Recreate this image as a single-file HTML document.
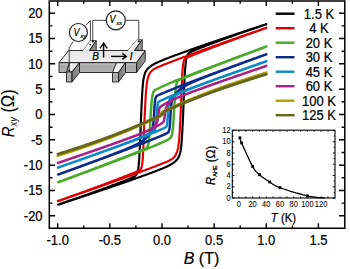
<!DOCTYPE html>
<html><head><meta charset="utf-8"><style>
html,body{margin:0;padding:0;background:#fff;}
svg{display:block;}
text{font-family:"Liberation Sans",sans-serif;stroke:#000;stroke-width:0.22px;}
.thin text{stroke-width:0.05px;}
</style></head><body>
<svg width="350" height="269" viewBox="0 0 350 269">
<rect width="350" height="269" fill="#fff"/>
<g fill="none" stroke-width="2.5" stroke-linejoin="round" stroke-linecap="round">
<path d="M266.3 24.1L265.7 24.3 265.2 24.5 264.6 24.7 264.0 24.9 263.4 25.0 262.9 25.2 262.3 25.4 261.7 25.6 261.1 25.8 260.6 26.0 260.0 26.2 259.4 26.4 258.8 26.6 258.3 26.8 257.7 27.0 257.1 27.1 256.5 27.3 256.0 27.5 255.4 27.7 254.8 27.9 254.3 28.1 253.7 28.3 253.1 28.5 252.5 28.7 252.0 28.9 251.4 29.0 250.8 29.2 250.2 29.4 249.7 29.6 249.1 29.8 248.5 30.0 247.9 30.2 247.4 30.4 246.8 30.6 246.2 30.8 245.6 31.0 245.1 31.1 244.5 31.3 243.9 31.5 243.4 31.7 242.8 31.9 242.2 32.1 241.6 32.3 241.1 32.5 240.5 32.7 239.9 32.9 239.3 33.1 238.8 33.3 238.2 33.4 237.6 33.6 237.0 33.8 236.5 34.0 235.9 34.2 235.3 34.4 234.7 34.6 234.2 34.8 233.6 35.0 233.0 35.2 232.5 35.4 231.9 35.6 231.3 35.8 230.7 35.9 230.2 36.1 229.6 36.3 229.0 36.5 228.4 36.7 227.9 36.9 227.3 37.1 226.7 37.3 226.1 37.5 225.6 37.7 225.0 37.9 224.4 38.1 223.8 38.3 223.3 38.5 222.7 38.7 222.1 38.8 221.6 39.0 221.0 39.2 220.4 39.4 219.8 39.6 219.3 39.8 218.7 40.0 218.1 40.2 217.5 40.4 217.0 40.6 216.4 40.8 215.8 41.0 215.2 41.2 214.7 41.4 214.1 41.6 213.5 41.8 213.0 42.0 212.4 42.2 211.8 42.4 211.2 42.6 210.7 42.8 210.1 42.9 209.5 43.1 208.9 43.3 208.4 43.5 207.8 43.7 207.2 43.9 206.6 44.1 206.1 44.3 205.5 44.5 204.9 44.7 204.3 44.9 203.8 45.1 203.2 45.3 202.6 45.5 202.1 45.7 201.5 45.9 200.9 46.1 200.3 46.3 199.8 46.5 199.2 46.7 198.6 46.9 198.0 47.1 197.5 47.3 196.9 47.5 196.3 47.7 195.7 47.9 195.2 48.1 194.6 48.3 194.0 48.5 193.4 48.7 192.9 48.9 192.3 49.1 191.7 49.3 191.2 49.5 190.6 49.7 190.0 49.9 189.4 50.1 188.9 50.4 188.3 50.6 187.7 50.8 187.1 51.0 186.6 51.2 186.0 51.4 185.4 51.6 184.8 51.8 184.3 52.0 183.7 52.2 183.1 52.4 182.5 52.6 182.0 52.8 181.4 53.0 180.8 53.2 180.3 53.4 179.7 53.7 179.1 53.9 178.5 54.1 178.0 54.3 177.4 54.5 176.8 54.7 176.2 54.9 175.7 55.1 175.1 55.3 174.5 55.6 173.9 55.8 173.4 56.0 172.8 56.2 172.2 56.4 171.6 56.6 171.1 56.8 170.5 57.1 169.9 57.3 169.4 57.5 168.8 57.7 168.2 57.9 167.6 58.2 167.1 58.4 166.5 58.6 165.9 58.8 165.3 59.1 164.8 59.3 164.2 59.5 163.6 59.7 163.0 60.0 162.5 60.2 161.9 60.4 161.3 60.7 160.7 60.9 160.2 61.2 159.6 61.4 159.0 61.7 158.5 61.9 157.9 62.2 157.3 62.4 156.7 62.7 156.2 63.0 155.6 63.3 155.0 63.6 154.4 63.9 153.9 64.2 153.3 64.5 152.8 64.8 152.2 65.1 151.7 65.5 151.2 65.8 150.7 66.2 150.2 66.6 149.6 67.0 149.2 67.4 148.7 67.8 148.2 68.3 147.8 68.8 147.3 69.2 146.9 69.7 146.6 70.2 146.2 70.8 145.9 71.3 145.6 71.9 145.3 72.4 145.1 73.0 144.8 73.7 144.6 74.3 144.4 75.1 144.2 75.7 144.1 76.3 143.9 77.1 143.7 77.9 143.6 78.5 143.5 79.2 143.4 79.9 143.3 80.6 143.2 81.5 143.1 82.4 143.0 83.3 142.9 84.3 142.8 85.4 142.7 86.6 142.7 87.2 142.6 87.9 142.5 88.6 142.5 89.3 142.4 90.0 142.4 90.7 142.3 91.5 142.3 92.3 142.2 93.1 142.2 93.9 142.1 94.8 142.1 95.7 142.0 96.6 142.0 97.5 141.9 98.5 141.9 99.4 141.8 100.4 141.8 101.5 141.7 102.5 141.7 103.6 141.6 104.7 141.6 105.8 141.5 106.9 141.5 108.0 141.4 109.2 141.3 110.3 141.3 111.5 141.2 112.7 141.2 113.8 141.1 115.0 141.1 116.2 141.0 117.4 141.0 118.6 140.9 119.8 140.9 120.9 140.8 122.3 140.8 123.7 140.7 125.1 140.7 126.6 140.6 128.0 140.6 129.4 140.5 130.8 140.5 132.2 140.4 133.6 140.4 135.0 140.3 136.4 140.3 137.7 140.2 139.0 140.1 140.3 140.1 141.6 140.0 142.9 140.0 144.1 139.9 145.3 139.9 146.4 139.8 147.6 139.8 148.7 139.7 149.8 139.7 150.8 139.6 151.8 139.6 152.8 139.5 153.8 139.5 154.7 139.4 155.6 139.4 156.4 139.3 157.3 139.3 158.1 139.2 158.8 139.2 159.6 139.1 160.3 139.1 161.0 139.0 161.6 138.9 162.3 138.9 162.9 138.8 164.0 138.7 165.1 138.6 166.0 138.5 166.9 138.4 167.7 138.3 168.4 138.2 169.1 138.1 169.7 137.9 170.5 137.8 171.2 137.6 171.9 137.4 172.6 137.2 173.2 136.9 173.8 136.6 174.3 136.2 174.9 135.8 175.4 135.4 175.8 134.8 176.2 134.3 176.5 133.7 176.8 133.2 177.1 132.6 177.3 132.0 177.6 131.4 177.8 130.9 178.1 130.3 178.3 129.7 178.6 129.1 178.8 128.6 179.0 128.0 179.3 127.4 179.5 126.9 179.7 126.3 180.0 125.7 180.2 125.1 180.4 124.6 180.7 124.0 180.9 123.4 181.1 122.8 181.4 122.3 181.6 121.7 181.8 121.1 182.0 120.5 182.3 120.0 182.5 119.4 182.7 118.8 182.9 118.2 183.1 117.7 183.4 117.1 183.6 116.5 183.8 116.0 184.0 115.4 184.2 114.8 184.5 114.2 184.7 113.7 184.9 113.1 185.1 112.5 185.3 111.9 185.5 111.4 185.8 110.8 186.0 110.2 186.2 109.6 186.4 109.1 186.6 108.5 186.8 107.9 187.0 107.3 187.3 106.8 187.5 106.2 187.7 105.6 187.9 105.1 188.1 104.5 188.3 103.9 188.5 103.3 188.7 102.8 188.9 102.2 189.2 101.6 189.4 101.0 189.6 100.5 189.8 99.9 190.0 99.3 190.2 98.7 190.4 98.2 190.6 97.6 190.8 97.0 191.0 96.4 191.2 95.9 191.4 95.3 191.6 94.7 191.8 94.2 192.1 93.6 192.3 93.0 192.5 92.4 192.7 91.9 192.9 91.3 193.1 90.7 193.3 90.1 193.5 89.6 193.7 89.0 193.9 88.4 194.1 87.8 194.3 87.3 194.5 86.7 194.7 86.1 194.9 85.5 195.1 85.0 195.3 84.4 195.5 83.8 195.7 83.3 195.9 82.7 196.1 82.1 196.3 81.5 196.5 81.0 196.7 80.4 196.9 79.8 197.1 79.2 197.3 78.7 197.5 78.1 197.7 77.5 197.9 76.9 198.1 76.4 198.3 75.8 198.5 75.2 198.7 74.6 198.9 74.1 199.1 73.5 199.3 72.9 199.5 72.4 199.7 71.8 199.9 71.2 200.1 70.6 200.3 70.1 200.5 69.5 200.6 68.9 200.8 68.3 201.0 67.8 201.2 67.2 201.4 66.6 201.6 66.0 201.8 65.5 202.0 64.9 202.2 64.3 202.4 63.7 202.6 63.2 202.8 62.6 203.0 62.0 203.2 61.5 203.4 60.9 203.6 60.3 203.8 59.7 204.0 59.2 204.2 58.6 204.4 58.0 204.5 58.6 204.6 59.2 204.4 59.8 204.2 60.4 204.0 60.9 203.8 61.5 203.6 62.1 203.5 62.7 203.3 63.2 203.1 63.8 202.9 64.4 202.7 64.9 202.5 65.5 202.3 66.1 202.1 66.7 201.9 67.2 201.7 67.8 201.5 68.4 201.4 69.0 201.2 69.5 201.0 70.1 200.8 70.7 200.6 71.3 200.4 71.8 200.2 72.4 200.0 73.0 199.8 73.6 199.6 74.1 199.5 74.7 199.3 75.3 199.1 75.8 198.9 76.4 198.7 77.0 198.5 77.6 198.3 78.1 198.1 78.7 197.9 79.3 197.7 79.9 197.5 80.4 197.4 81.0 197.2 81.6 197.0 82.2 196.8 82.7 196.6 83.3 196.4 83.9 196.2 84.5 196.0 85.0 195.8 85.6 195.6 86.2 195.4 86.7 195.2 87.3 195.1 87.9 194.9 88.5 194.7 89.0 194.5 89.6 194.3 90.2 194.1 90.8 193.9 91.3 193.7 91.9 193.5 92.5 193.3 93.1 193.1 93.6 192.9 94.2 192.7 94.8 192.5 95.4 192.4 95.9 192.2 96.5 192.0 97.1 191.8 97.6 191.6 98.2 191.4 98.8 191.2 99.4 191.0 99.9 190.8 100.5 190.6 101.1 190.4 101.7 190.2 102.2 190.0 102.8 189.8 103.4 189.6 104.0 189.4 104.5 189.3 105.1 189.1 105.7 188.9 106.3 188.7 106.8 188.5 107.4 188.3 108.0 188.1 108.5 187.9 109.1 187.7 109.7 187.5 110.3 187.3 110.8 187.1 111.4 186.9 112.0 186.7 112.6 186.5 113.1 186.3 113.7 186.1 114.3 185.9 114.9 185.7 115.4 185.5 116.0 185.3 116.6 185.1 117.2 184.9 117.7 184.7 118.3 184.5 118.9 184.4 119.4 184.2 120.0 184.0 120.6 183.8 121.2 183.6 121.7 183.4 122.3 183.2 122.9 183.0 123.5 182.8 124.0 182.6 124.6 182.4 125.2 182.2 125.8 182.0 126.3 181.8 126.9 181.6 127.5 181.4 128.1 181.2 128.6 181.0 129.2 180.8 129.8 180.6 130.3 180.4 130.9 180.2 131.5 179.9 132.1 179.7 132.6 179.5 133.2 179.3 133.8 179.1 134.4 178.9 134.9 178.7 135.5 178.5 136.1 178.3 136.7 178.1 137.2 177.9 137.8 177.7 138.4 177.5 138.9 177.3 139.5 177.1 140.1 176.9 140.7 176.7 141.2 176.5 141.8 176.3 142.4 176.1 143.0 175.8 143.5 175.6 144.1 175.4 144.7 175.2 145.3 175.0 145.8 174.8 146.4 174.6 147.0 174.4 147.6 174.2 148.1 174.0 148.7 173.7 149.3 173.5 149.8 173.3 150.4 173.1 151.0 172.9 151.6 172.7 152.1 172.5 152.7 172.2 153.3 172.0 153.9 171.8 154.4 171.6 155.0 171.4 155.6 171.2 156.2 170.9 156.7 170.7 157.3 170.5 157.9 170.3 158.5 170.0 159.0 169.8 159.6 169.6 160.2 169.4 160.7 169.1 161.3 168.9 161.9 168.7 162.5 168.4 163.0 168.2 163.6 168.0 164.2 167.7 164.8 167.5 165.3 167.2 165.9 167.0 166.5 166.7 167.1 166.4 167.6 166.2 168.2 165.9 168.8 165.6 169.4 165.3 169.9 165.0 170.5 164.7 171.0 164.4 171.5 164.1 172.1 163.7 172.6 163.4 173.1 163.1 173.6 162.7 174.2 162.3 174.7 161.9 175.1 161.5 175.6 161.1 176.1 160.6 176.5 160.1 177.0 159.7 177.4 159.1 177.7 158.6 178.1 158.1 178.4 157.6 178.7 157.0 179.0 156.4 179.3 155.8 179.5 155.1 179.7 154.5 179.9 153.7 180.1 153.1 180.3 152.4 180.4 151.7 180.6 150.8 180.7 150.2 180.8 149.5 180.9 148.8 181.0 148.0 181.1 147.2 181.2 146.3 181.3 145.3 181.4 144.2 181.5 143.1 181.6 141.9 181.7 141.3 181.7 140.6 181.8 139.9 181.8 139.2 181.9 138.5 181.9 137.7 182.0 136.9 182.0 136.1 182.1 135.3 182.1 134.5 182.2 133.6 182.2 132.7 182.3 131.8 182.3 130.8 182.4 129.8 182.4 128.8 182.5 127.8 182.5 126.8 182.6 125.7 182.7 124.7 182.7 123.6 182.8 122.4 182.8 121.3 182.9 120.2 182.9 119.0 183.0 117.9 183.0 116.7 183.1 115.5 183.1 114.3 183.2 113.1 183.2 112.0 183.3 110.8 183.3 109.6 183.4 108.4 183.4 107.2 183.5 105.7 183.5 104.3 183.6 102.9 183.6 101.5 183.7 100.0 183.7 98.6 183.8 97.2 183.9 95.8 183.9 94.4 184.0 93.1 184.0 91.7 184.1 90.4 184.1 89.1 184.2 87.8 184.2 86.5 184.3 85.3 184.3 84.1 184.4 82.9 184.4 81.8 184.5 80.6 184.5 79.5 184.6 78.5 184.6 77.5 184.7 76.5 184.7 75.5 184.8 74.6 184.8 73.7 184.9 72.8 184.9 71.9 185.0 71.1 185.1 70.3 185.1 69.6 185.2 68.9 185.2 68.2 185.3 67.5 185.3 66.9 185.4 66.2 185.5 65.1 185.6 64.0 185.7 63.1 185.8 62.2 185.9 61.3 186.0 60.6 186.1 59.9 186.2 59.3 186.4 58.5 186.5 57.8 186.7 57.1 186.9 56.4 187.1 55.8 187.3 55.2 187.7 54.6 188.0 54.1 188.4 53.6 188.9 53.1 189.4 52.8 190.0 52.4 190.5 52.1 191.1 51.9 191.7 51.6 192.2 51.3 192.8 51.1 193.4 50.8 194.0 50.6 194.5 50.3 195.1 50.1 195.7 49.9 196.3 49.6 196.8 49.4 197.4 49.2 198.0 48.9 198.6 48.7 199.1 48.5 199.7 48.2 200.3 48.0 200.9 47.8 201.4 47.6 202.0 47.3 202.6 47.1 203.1 46.9 203.7 46.7 204.3 46.4 204.9 46.2 205.4 46.0 206.0 45.8 206.6 45.6 207.2 45.3 207.7 45.1 208.3 44.9 208.9 44.7 209.5 44.5 210.0 44.2 210.6 44.0 211.2 43.8 211.8 43.6 212.3 43.4 212.9 43.2 213.5 42.9 214.0 42.7 214.6 42.5 215.2 42.3 215.8 42.1 216.3 41.9 216.9 41.7 217.5 41.4 218.1 41.2 218.6 41.0 219.2 40.8 219.8 40.6 220.4 40.4 220.9 40.2 221.5 40.0 222.1 39.8 222.7 39.6 223.2 39.3 223.8 39.1 224.4 38.9 224.9 38.7 225.5 38.5 226.1 38.3 226.7 38.1 227.2 37.9 227.8 37.7 228.4 37.5 229.0 37.3 229.5 37.1 230.1 36.9 230.7 36.7 231.3 36.5 231.8 36.3 232.4 36.0 233.0 35.8 233.5 35.6 234.1 35.4 234.7 35.2 235.3 35.0 235.8 34.8 236.4 34.6 237.0 34.4 237.6 34.2 238.1 34.0 238.7 33.8 239.3 33.6 239.9 33.4 240.4 33.2 241.0 33.0 241.6 32.8 242.2 32.6 242.7 32.4 243.3 32.2 243.9 32.0 244.4 31.8 245.0 31.6 245.6 31.4 246.2 31.2 246.7 31.0 247.3 30.8 247.9 30.6 248.5 30.4 249.0 30.2 249.6 30.0 250.2 29.8 250.8 29.6 251.3 29.4 251.9 29.2 252.5 29.1 253.1 28.9 253.6 28.7 254.2 28.5 254.8 28.3 255.3 28.1 255.9 27.9 256.5 27.7 257.1 27.5 257.6 27.3 258.2 27.1 258.8 26.9 259.4 26.7 259.9 26.5 260.5 26.3 261.1 26.1 261.7 25.9 262.2 25.7 262.8 25.5 263.4 25.3 264.0 25.1 264.5 24.9 265.1 24.8 265.7 24.6 266.2 24.4 266.3 24.3" stroke="#000000" stroke-width="2.15"/><path d="M266.3 27.7L265.7 27.9 265.2 28.1 264.6 28.3 264.0 28.5 263.4 28.7 262.9 28.9 262.3 29.1 261.7 29.3 261.1 29.5 260.6 29.7 260.0 29.9 259.4 30.1 258.8 30.3 258.3 30.5 257.7 30.7 257.1 30.9 256.5 31.1 256.0 31.3 255.4 31.5 254.8 31.7 254.3 31.9 253.7 32.1 253.1 32.3 252.5 32.5 252.0 32.7 251.4 32.9 250.8 33.1 250.2 33.3 249.7 33.5 249.1 33.7 248.5 33.9 247.9 34.1 247.4 34.3 246.8 34.5 246.2 34.7 245.6 34.9 245.1 35.1 244.5 35.3 243.9 35.5 243.4 35.7 242.8 35.9 242.2 36.1 241.6 36.3 241.1 36.5 240.5 36.7 239.9 36.9 239.3 37.1 238.8 37.3 238.2 37.5 237.6 37.7 237.0 37.9 236.5 38.1 235.9 38.3 235.3 38.5 234.7 38.7 234.2 38.9 233.6 39.1 233.0 39.3 232.5 39.5 231.9 39.7 231.3 39.9 230.7 40.1 230.2 40.3 229.6 40.5 229.0 40.7 228.4 40.9 227.9 41.1 227.3 41.3 226.7 41.5 226.1 41.7 225.6 41.9 225.0 42.1 224.4 42.3 223.8 42.5 223.3 42.7 222.7 42.9 222.1 43.1 221.6 43.3 221.0 43.5 220.4 43.8 219.8 44.0 219.3 44.2 218.7 44.4 218.1 44.6 217.5 44.8 217.0 45.0 216.4 45.2 215.8 45.4 215.2 45.6 214.7 45.8 214.1 46.0 213.5 46.2 213.0 46.4 212.4 46.6 211.8 46.8 211.2 47.0 210.7 47.2 210.1 47.4 209.5 47.7 208.9 47.9 208.4 48.1 207.8 48.3 207.2 48.5 206.6 48.7 206.1 48.9 205.5 49.1 204.9 49.3 204.3 49.5 203.8 49.7 203.2 49.9 202.6 50.1 202.1 50.3 201.5 50.6 200.9 50.8 200.3 51.0 199.8 51.2 199.2 51.4 198.6 51.6 198.0 51.8 197.5 52.0 196.9 52.2 196.3 52.4 195.7 52.6 195.2 52.9 194.6 53.1 194.0 53.3 193.4 53.5 192.9 53.7 192.3 53.9 191.7 54.1 191.2 54.3 190.6 54.5 190.0 54.8 189.4 55.0 188.9 55.2 188.3 55.4 187.7 55.6 187.1 55.8 186.6 56.0 186.0 56.2 185.4 56.5 184.8 56.7 184.3 56.9 183.7 57.1 183.1 57.3 182.5 57.5 182.0 57.7 181.4 58.0 180.8 58.2 180.3 58.4 179.7 58.6 179.1 58.8 178.5 59.0 178.0 59.3 177.4 59.5 176.8 59.7 176.2 59.9 175.7 60.1 175.1 60.3 174.5 60.6 173.9 60.8 173.4 61.0 172.8 61.2 172.2 61.4 171.6 61.7 171.1 61.9 170.5 62.1 169.9 62.3 169.4 62.5 168.8 62.8 168.2 63.0 167.6 63.2 167.1 63.4 166.5 63.7 165.9 63.9 165.3 64.1 164.8 64.3 164.2 64.6 163.6 64.8 163.0 65.0 162.5 65.2 161.9 65.5 161.3 65.7 160.7 65.9 160.2 66.2 159.6 66.4 159.0 66.7 158.5 66.9 157.9 67.2 157.3 67.4 156.7 67.7 156.2 68.0 155.6 68.2 155.0 68.6 154.4 68.9 153.9 69.2 153.4 69.5 152.9 69.9 152.4 70.3 151.9 70.7 151.4 71.2 151.0 71.6 150.6 72.2 150.2 72.7 149.8 73.2 149.5 73.8 149.2 74.4 149.0 74.9 148.7 75.5 148.4 76.2 148.2 76.9 148.0 77.6 147.8 78.3 147.7 79.0 147.5 79.7 147.3 80.4 147.2 81.3 147.1 81.9 147.0 82.6 146.9 83.3 146.8 84.1 146.7 84.9 146.6 85.8 146.5 86.8 146.4 87.8 146.3 88.9 146.1 90.1 146.1 90.7 146.0 91.4 146.0 92.1 145.9 92.8 145.9 93.5 145.8 94.3 145.8 95.0 145.7 95.8 145.7 96.7 145.6 97.5 145.6 98.4 145.5 99.3 145.5 100.2 145.4 101.1 145.4 102.1 145.3 103.1 145.3 104.1 145.2 105.1 145.2 106.1 145.1 107.2 145.1 108.2 145.0 109.2 144.9 110.3 144.9 111.3 144.8 112.4 144.8 113.4 144.7 114.5 144.7 115.5 144.6 116.5 144.6 117.4 144.5 118.4 144.5 119.3 144.4 120.1 144.4 121.1 144.3 122.3 144.3 123.5 144.2 124.8 144.2 126.2 144.1 127.6 144.1 129.0 144.0 130.4 144.0 131.9 143.9 133.3 143.9 134.8 143.8 136.2 143.7 137.7 143.7 139.1 143.6 140.5 143.6 141.8 143.5 143.2 143.5 144.5 143.4 145.7 143.4 146.9 143.3 148.1 143.3 149.3 143.2 150.4 143.2 151.4 143.1 152.4 143.1 153.4 143.0 154.3 143.0 155.2 142.9 156.0 142.9 156.8 142.8 157.6 142.8 158.3 142.7 159.0 142.7 159.6 142.6 160.3 142.5 161.4 142.4 162.4 142.3 163.3 142.2 164.1 142.1 164.8 142.0 165.4 141.8 166.2 141.7 166.9 141.5 167.6 141.2 168.2 141.0 168.8 140.6 169.3 140.2 169.8 139.7 170.2 139.2 170.5 138.6 170.8 138.1 171.0 137.5 171.3 136.9 171.5 136.3 171.8 135.8 172.0 135.2 172.2 134.6 172.5 134.0 172.7 133.5 172.9 132.9 173.2 132.3 173.4 131.8 173.6 131.2 173.8 130.6 174.1 130.0 174.3 129.5 174.5 128.9 174.8 128.3 175.0 127.7 175.2 127.2 175.4 126.6 175.7 126.0 175.9 125.4 176.1 124.9 176.3 124.3 176.6 123.7 176.8 123.1 177.0 122.6 177.2 122.0 177.5 121.4 177.7 120.9 177.9 120.3 178.1 119.7 178.3 119.1 178.6 118.6 178.8 118.0 179.0 117.4 179.2 116.8 179.4 116.3 179.7 115.7 179.9 115.1 180.1 114.5 180.3 114.0 180.5 113.4 180.8 112.8 181.0 112.2 181.2 111.7 181.4 111.1 181.6 110.5 181.8 110.0 182.1 109.4 182.3 108.8 182.5 108.2 182.7 107.7 182.9 107.1 183.1 106.5 183.4 105.9 183.6 105.4 183.8 104.8 184.0 104.2 184.2 103.6 184.4 103.1 184.6 102.5 184.9 101.9 185.1 101.3 185.3 100.8 185.5 100.2 185.7 99.6 185.9 99.1 186.1 98.5 186.3 97.9 186.6 97.3 186.8 96.8 187.0 96.2 187.2 95.6 187.4 95.0 187.6 94.5 187.8 93.9 188.0 93.3 188.2 92.7 188.5 92.2 188.7 91.6 188.9 91.0 189.1 90.5 189.3 89.9 189.5 89.3 189.7 88.7 189.9 88.2 190.1 87.6 190.3 87.0 190.5 86.4 190.8 85.9 191.0 85.3 191.2 84.7 191.4 84.1 191.6 83.6 191.8 83.0 192.0 82.4 192.2 81.8 192.4 81.3 192.6 80.7 192.8 80.1 193.0 79.6 193.2 79.0 193.4 78.4 193.7 77.8 193.9 77.3 194.1 76.7 194.3 76.1 194.5 75.5 194.7 75.0 194.9 74.4 195.1 73.8 195.3 73.2 195.5 72.7 195.7 72.1 195.9 71.5 196.1 70.9 196.3 70.4 196.5 69.8 196.7 69.2 196.9 68.7 197.1 68.1 197.3 67.5 197.5 66.9 197.8 66.4 198.0 65.8 198.2 65.2 198.4 64.6 198.6 64.1 198.8 63.5 199.0 62.9 199.2 62.3 199.4 61.8 199.6 61.2 199.8 60.6 200.0 60.0 200.2 59.5 200.4 58.9 200.6 58.3 200.8 57.8 201.0 58.4 201.1 59.0 200.9 59.5 200.7 60.1 200.5 60.7 200.3 61.2 200.1 61.8 199.9 62.4 199.7 63.0 199.5 63.5 199.3 64.1 199.1 64.7 198.9 65.3 198.7 65.8 198.5 66.4 198.3 67.0 198.1 67.6 197.9 68.1 197.7 68.7 197.5 69.3 197.3 69.9 197.1 70.4 196.9 71.0 196.7 71.6 196.5 72.1 196.3 72.7 196.1 73.3 195.9 73.9 195.7 74.4 195.5 75.0 195.3 75.6 195.1 76.2 194.9 76.7 194.7 77.3 194.5 77.9 194.3 78.5 194.1 79.0 193.9 79.6 193.7 80.2 193.5 80.8 193.3 81.3 193.1 81.9 192.9 82.5 192.7 83.0 192.5 83.6 192.3 84.2 192.1 84.8 191.9 85.3 191.7 85.9 191.5 86.5 191.3 87.1 191.1 87.6 190.9 88.2 190.7 88.8 190.5 89.4 190.3 89.9 190.1 90.5 189.9 91.1 189.7 91.6 189.5 92.2 189.3 92.8 189.1 93.4 188.9 93.9 188.7 94.5 188.5 95.1 188.3 95.7 188.1 96.2 187.9 96.8 187.7 97.4 187.5 98.0 187.3 98.5 187.1 99.1 186.9 99.7 186.7 100.3 186.5 100.8 186.2 101.4 186.0 102.0 185.8 102.5 185.6 103.1 185.4 103.7 185.2 104.3 185.0 104.8 184.8 105.4 184.6 106.0 184.4 106.6 184.2 107.1 184.0 107.7 183.8 108.3 183.6 108.9 183.4 109.4 183.2 110.0 183.0 110.6 182.8 111.2 182.6 111.7 182.4 112.3 182.2 112.9 182.0 113.4 181.7 114.0 181.5 114.6 181.3 115.2 181.1 115.7 180.9 116.3 180.7 116.9 180.5 117.5 180.3 118.0 180.1 118.6 179.9 119.2 179.7 119.8 179.5 120.3 179.3 120.9 179.1 121.5 178.9 122.1 178.6 122.6 178.4 123.2 178.2 123.8 178.0 124.3 177.8 124.9 177.6 125.5 177.4 126.1 177.2 126.6 177.0 127.2 176.8 127.8 176.6 128.4 176.3 128.9 176.1 129.5 175.9 130.1 175.7 130.7 175.5 131.2 175.3 131.8 175.1 132.4 174.9 133.0 174.7 133.5 174.5 134.1 174.2 134.7 174.0 135.2 173.8 135.8 173.6 136.4 173.4 137.0 173.2 137.5 173.0 138.1 172.8 138.7 172.5 139.3 172.3 139.8 172.1 140.4 171.9 141.0 171.7 141.6 171.5 142.1 171.3 142.7 171.0 143.3 170.8 143.9 170.6 144.4 170.4 145.0 170.2 145.6 170.0 146.1 169.7 146.7 169.5 147.3 169.3 147.9 169.1 148.4 168.9 149.0 168.7 149.6 168.4 150.2 168.2 150.7 168.0 151.3 167.8 151.9 167.6 152.5 167.4 153.0 167.1 153.6 166.9 154.2 166.7 154.8 166.5 155.3 166.3 155.9 166.0 156.5 165.8 157.0 165.6 157.6 165.4 158.2 165.1 158.8 164.9 159.3 164.7 159.9 164.5 160.5 164.2 161.1 164.0 161.6 163.8 162.2 163.6 162.8 163.3 163.4 163.1 163.9 162.9 164.5 162.6 165.1 162.4 165.7 162.2 166.2 161.9 166.8 161.7 167.4 161.4 167.9 161.2 168.5 160.9 169.1 160.6 169.7 160.3 170.2 160.0 170.8 159.7 171.3 159.4 171.9 159.1 172.4 158.7 172.9 158.3 173.4 157.9 173.8 157.4 174.3 157.0 174.7 156.5 175.0 156.0 175.4 155.5 175.7 154.9 176.0 154.3 176.3 153.8 176.5 153.2 176.8 152.5 177.0 151.9 177.2 151.3 177.4 150.5 177.6 149.9 177.7 149.2 177.9 148.5 178.1 147.7 178.2 147.1 178.3 146.5 178.4 145.8 178.5 145.0 178.6 144.3 178.7 143.4 178.8 142.5 178.9 141.5 179.0 140.5 179.1 139.3 179.2 138.7 179.2 138.1 179.3 137.5 179.3 136.8 179.4 136.1 179.4 135.4 179.5 134.6 179.5 133.9 179.6 133.1 179.6 132.3 179.7 131.4 179.7 130.6 179.8 129.7 179.8 128.8 179.9 127.8 179.9 126.9 180.0 125.9 180.0 124.9 180.1 123.9 180.1 122.9 180.2 121.9 180.3 120.8 180.3 119.8 180.4 118.7 180.4 117.7 180.5 116.6 180.5 115.6 180.6 114.6 180.6 113.6 180.7 112.6 180.7 111.6 180.8 110.6 180.8 109.7 180.9 108.8 180.9 107.9 181.0 106.8 181.0 105.6 181.1 104.3 181.1 103.0 181.2 101.6 181.2 100.2 181.3 98.8 181.3 97.4 181.4 95.9 181.5 94.5 181.5 93.0 181.6 91.6 181.6 90.1 181.7 88.7 181.7 87.4 181.8 86.0 181.8 84.7 181.9 83.4 181.9 82.2 182.0 81.0 182.0 79.8 182.1 78.7 182.1 77.6 182.2 76.6 182.2 75.6 182.3 74.7 182.3 73.8 182.4 72.9 182.4 72.1 182.5 71.3 182.5 70.6 182.6 69.9 182.7 69.2 182.7 68.6 182.8 67.4 182.9 66.4 183.0 65.5 183.1 64.7 183.2 63.9 183.3 63.3 183.5 62.4 183.6 61.7 183.8 61.2 184.0 60.5 184.3 59.9 184.6 59.4 185.0 58.9 185.5 58.5 186.0 58.1 186.6 57.8 187.1 57.6 187.7 57.3 188.3 57.1 188.9 56.8 189.4 56.6 190.0 56.4 190.6 56.1 191.2 55.9 191.7 55.7 192.3 55.4 192.9 55.2 193.4 55.0 194.0 54.8 194.6 54.5 195.2 54.3 195.7 54.1 196.3 53.8 196.9 53.6 197.5 53.4 198.0 53.2 198.6 52.9 199.2 52.7 199.8 52.5 200.3 52.3 200.9 52.0 201.5 51.8 202.1 51.6 202.6 51.4 203.2 51.1 203.8 50.9 204.3 50.7 204.9 50.5 205.5 50.3 206.1 50.0 206.6 49.8 207.2 49.6 207.8 49.4 208.4 49.2 208.9 48.9 209.5 48.7 210.1 48.5 210.7 48.3 211.2 48.1 211.8 47.8 212.4 47.6 213.0 47.4 213.5 47.2 214.1 47.0 214.7 46.8 215.2 46.5 215.8 46.3 216.4 46.1 217.0 45.9 217.5 45.7 218.1 45.5 218.7 45.2 219.3 45.0 219.8 44.8 220.4 44.6 221.0 44.4 221.6 44.2 222.1 44.0 222.7 43.7 223.3 43.5 223.8 43.3 224.4 43.1 225.0 42.9 225.6 42.7 226.1 42.5 226.7 42.3 227.3 42.0 227.9 41.8 228.4 41.6 229.0 41.4 229.6 41.2 230.2 41.0 230.7 40.8 231.3 40.6 231.9 40.4 232.5 40.1 233.0 39.9 233.6 39.7 234.2 39.5 234.7 39.3 235.3 39.1 235.9 38.9 236.5 38.7 237.0 38.5 237.6 38.3 238.2 38.1 238.8 37.8 239.3 37.6 239.9 37.4 240.5 37.2 241.1 37.0 241.6 36.8 242.2 36.6 242.8 36.4 243.4 36.2 243.9 36.0 244.5 35.8 245.1 35.6 245.6 35.4 246.2 35.1 246.8 34.9 247.4 34.7 247.9 34.5 248.5 34.3 249.1 34.1 249.7 33.9 250.2 33.7 250.8 33.5 251.4 33.3 252.0 33.1 252.5 32.9 253.1 32.7 253.7 32.5 254.3 32.3 254.8 32.1 255.4 31.9 256.0 31.7 256.5 31.5 257.1 31.2 257.7 31.0 258.3 30.8 258.8 30.6 259.4 30.4 260.0 30.2 260.6 30.0 261.1 29.8 261.7 29.6 262.3 29.4 262.9 29.2 263.4 29.0 264.0 28.8 264.6 28.6 265.2 28.4 265.7 28.2 266.3 28.0" stroke="#e00000" stroke-width="2.15"/><path d="M266.3 46.5L265.7 46.7 265.2 46.9 264.6 47.1 264.0 47.3 263.4 47.5 262.9 47.8 262.3 48.0 261.7 48.2 261.1 48.4 260.6 48.6 260.0 48.8 259.4 49.0 258.8 49.2 258.3 49.4 257.7 49.7 257.1 49.9 256.5 50.1 256.0 50.3 255.4 50.5 254.8 50.7 254.3 50.9 253.7 51.1 253.1 51.4 252.5 51.6 252.0 51.8 251.4 52.0 250.8 52.2 250.2 52.4 249.7 52.6 249.1 52.8 248.5 53.0 247.9 53.3 247.4 53.5 246.8 53.7 246.2 53.9 245.6 54.1 245.1 54.3 244.5 54.5 243.9 54.7 243.4 55.0 242.8 55.2 242.2 55.4 241.6 55.6 241.1 55.8 240.5 56.0 239.9 56.2 239.3 56.4 238.8 56.7 238.2 56.9 237.6 57.1 237.0 57.3 236.5 57.5 235.9 57.7 235.3 57.9 234.7 58.1 234.2 58.4 233.6 58.6 233.0 58.8 232.5 59.0 231.9 59.2 231.3 59.4 230.7 59.6 230.2 59.9 229.6 60.1 229.0 60.3 228.4 60.5 227.9 60.7 227.3 60.9 226.7 61.1 226.1 61.4 225.6 61.6 225.0 61.8 224.4 62.0 223.8 62.2 223.3 62.4 222.7 62.6 222.1 62.9 221.6 63.1 221.0 63.3 220.4 63.5 219.8 63.7 219.3 63.9 218.7 64.1 218.1 64.4 217.5 64.6 217.0 64.8 216.4 65.0 215.8 65.2 215.2 65.4 214.7 65.7 214.1 65.9 213.5 66.1 213.0 66.3 212.4 66.5 211.8 66.7 211.2 66.9 210.7 67.2 210.1 67.4 209.5 67.6 208.9 67.8 208.4 68.0 207.8 68.2 207.2 68.5 206.6 68.7 206.1 68.9 205.5 69.1 204.9 69.3 204.3 69.6 203.8 69.8 203.2 70.0 202.6 70.2 202.1 70.4 201.5 70.6 200.9 70.9 200.3 71.1 199.8 71.3 199.2 71.5 198.6 71.7 198.0 72.0 197.5 72.2 196.9 72.4 196.3 72.6 195.7 72.8 195.2 73.1 194.6 73.3 194.0 73.5 193.4 73.7 192.9 73.9 192.3 74.2 191.7 74.4 191.2 74.6 190.6 74.8 190.0 75.1 189.4 75.3 188.9 75.5 188.3 75.7 187.7 75.9 187.1 76.2 186.6 76.4 186.0 76.6 185.4 76.8 184.8 77.1 184.3 77.3 183.7 77.5 183.1 77.7 182.5 78.0 182.0 78.2 181.4 78.4 180.8 78.7 180.3 78.9 179.7 79.1 179.1 79.3 178.5 79.6 178.0 79.8 177.4 80.0 176.8 80.3 176.2 80.5 175.7 80.7 175.1 81.0 174.5 81.2 173.9 81.4 173.4 81.7 172.8 81.9 172.2 82.2 171.6 82.4 171.1 82.6 170.5 82.9 169.9 83.1 169.4 83.4 168.8 83.6 168.2 83.9 167.6 84.1 167.1 84.4 166.5 84.6 165.9 84.9 165.3 85.1 164.8 85.4 164.2 85.6 163.6 85.9 163.0 86.1 162.5 86.4 161.9 86.7 161.3 86.9 160.7 87.2 160.2 87.5 159.6 87.8 159.0 88.1 158.5 88.3 157.9 88.6 157.3 88.9 156.7 89.2 156.2 89.5 155.6 89.8 155.1 90.2 154.6 90.6 154.1 91.0 153.7 91.6 153.4 92.2 153.1 92.8 152.9 93.4 152.7 94.1 152.6 94.8 152.4 95.6 152.3 96.2 152.2 96.8 152.1 97.6 152.0 98.4 151.9 99.3 151.8 100.3 151.7 101.3 151.6 102.5 151.5 103.1 151.5 103.8 151.4 104.4 151.4 105.1 151.3 105.8 151.3 106.6 151.2 107.3 151.2 108.1 151.1 108.9 151.0 109.7 151.0 110.5 150.9 111.4 150.9 112.2 150.8 113.1 150.8 114.0 150.7 114.9 150.7 115.8 150.6 116.7 150.6 117.7 150.5 118.6 150.5 119.4 150.4 120.1 150.4 120.9 150.3 121.8 150.3 122.6 150.2 123.4 150.2 124.3 150.1 125.1 150.1 126.0 150.0 126.8 150.0 127.6 149.9 128.4 149.8 129.2 149.8 130.0 149.7 130.8 149.7 131.6 149.6 132.3 149.6 133.0 149.5 133.7 149.5 134.4 149.4 135.1 149.4 135.7 149.3 136.3 149.2 137.5 149.1 138.5 149.0 139.5 148.9 140.4 148.8 141.2 148.7 142.0 148.6 142.6 148.5 143.3 148.3 144.0 148.2 144.7 148.0 145.3 147.8 146.0 147.6 146.6 147.2 147.2 146.9 147.7 146.4 148.1 145.9 148.5 145.4 148.8 144.8 149.1 144.2 149.3 143.6 149.6 143.1 149.8 142.5 150.0 141.9 150.3 141.3 150.5 140.8 150.7 140.2 151.0 139.6 151.2 139.1 151.4 138.5 151.6 137.9 151.9 137.3 152.1 136.8 152.3 136.2 152.6 135.6 152.8 135.0 153.0 134.5 153.2 133.9 153.5 133.3 153.7 132.7 153.9 132.2 154.1 131.6 154.4 131.0 154.6 130.4 154.8 129.9 155.0 129.3 155.3 128.7 155.5 128.2 155.7 127.6 155.9 127.0 156.2 126.4 156.4 125.9 156.6 125.3 156.8 124.7 157.0 124.1 157.3 123.6 157.5 123.0 157.7 122.4 157.9 121.8 158.2 121.3 158.4 120.7 158.6 120.1 158.8 119.5 159.0 119.0 159.3 118.4 159.5 117.8 159.7 117.3 159.9 116.7 160.2 116.1 160.4 115.5 160.6 115.0 160.8 114.4 161.0 113.8 161.3 113.2 161.5 112.7 161.7 112.1 161.9 111.5 162.1 110.9 162.4 110.4 162.6 109.8 162.8 109.2 163.0 108.7 163.2 108.1 163.5 107.5 163.7 106.9 163.9 106.4 164.1 105.8 164.3 105.2 164.5 104.6 164.8 104.1 165.0 103.5 165.2 102.9 165.4 102.3 165.6 101.8 165.9 101.2 166.1 100.6 166.3 100.0 166.5 99.5 166.7 98.9 166.9 98.3 167.2 97.8 167.4 97.2 167.6 96.6 167.8 96.0 168.0 95.5 168.2 94.9 168.5 94.3 168.7 93.7 168.9 93.2 169.1 92.6 169.3 92.0 169.5 91.4 169.8 90.9 170.0 90.3 170.2 89.7 170.4 89.1 170.6 88.6 170.8 88.0 171.1 87.4 171.3 86.9 171.5 86.3 171.7 85.7 171.9 85.1 172.1 84.6 172.4 84.0 172.6 83.4 172.8 82.8 173.0 82.3 173.2 81.7 173.4 81.1 173.6 80.5 173.9 80.0 174.1 79.4 174.3 78.8 174.5 78.2 174.7 77.7 174.9 77.1 175.1 76.5 175.4 76.0 175.6 75.4 175.8 74.8 176.0 74.2 176.2 73.7 176.4 73.1 176.6 72.5 176.9 71.9 177.1 71.4 177.3 70.8 177.5 70.2 177.7 69.6 177.9 69.1 178.1 68.5 178.4 67.9 178.6 67.3 178.8 66.8 179.0 66.2 179.2 65.6 179.4 65.1 179.6 64.5 179.8 63.9 180.1 63.3 180.3 62.8 180.5 62.2 180.7 61.6 180.9 61.0 181.1 60.5 181.3 59.9 181.5 59.3 181.8 58.7 182.0 58.2 182.2 58.8 182.1 59.4 181.9 59.9 181.7 60.5 181.5 61.1 181.3 61.7 181.1 62.2 180.8 62.8 180.6 63.4 180.4 64.0 180.2 64.5 180.0 65.1 179.8 65.7 179.6 66.3 179.4 66.8 179.2 67.4 178.9 68.0 178.7 68.5 178.5 69.1 178.3 69.7 178.1 70.3 177.9 70.8 177.7 71.4 177.5 72.0 177.2 72.6 177.0 73.1 176.8 73.7 176.6 74.3 176.4 74.9 176.2 75.4 176.0 76.0 175.8 76.6 175.6 77.2 175.3 77.7 175.1 78.3 174.9 78.9 174.7 79.4 174.5 80.0 174.3 80.6 174.1 81.2 173.9 81.7 173.6 82.3 173.4 82.9 173.2 83.5 173.0 84.0 172.8 84.6 172.6 85.2 172.4 85.8 172.2 86.3 171.9 86.9 171.7 87.5 171.5 88.1 171.3 88.6 171.1 89.2 170.9 89.8 170.7 90.3 170.5 90.9 170.2 91.5 170.0 92.1 169.8 92.6 169.6 93.2 169.4 93.8 169.2 94.4 169.0 94.9 168.7 95.5 168.5 96.1 168.3 96.7 168.1 97.2 167.9 97.8 167.7 98.4 167.5 99.0 167.2 99.5 167.0 100.1 166.8 100.7 166.6 101.2 166.4 101.8 166.2 102.4 166.0 103.0 165.7 103.5 165.5 104.1 165.3 104.7 165.1 105.3 164.9 105.8 164.7 106.4 164.5 107.0 164.2 107.6 164.0 108.1 163.8 108.7 163.6 109.3 163.4 109.8 163.2 110.4 162.9 111.0 162.7 111.6 162.5 112.1 162.3 112.7 162.1 113.3 161.9 113.9 161.6 114.4 161.4 115.0 161.2 115.6 161.0 116.2 160.8 116.7 160.6 117.3 160.3 117.9 160.1 118.5 159.9 119.0 159.7 119.6 159.5 120.2 159.3 120.7 159.0 121.3 158.8 121.9 158.6 122.5 158.4 123.0 158.2 123.6 158.0 124.2 157.7 124.8 157.5 125.3 157.3 125.9 157.1 126.5 156.9 127.1 156.6 127.6 156.4 128.2 156.2 128.8 156.0 129.4 155.8 129.9 155.5 130.5 155.3 131.1 155.1 131.6 154.9 132.2 154.7 132.8 154.4 133.4 154.2 133.9 154.0 134.5 153.8 135.1 153.5 135.7 153.3 136.2 153.1 136.8 152.9 137.4 152.6 138.0 152.4 138.5 152.2 139.1 152.0 139.7 151.7 140.3 151.5 140.8 151.3 141.4 151.1 142.0 150.8 142.5 150.6 143.1 150.4 143.7 150.2 144.3 149.9 144.8 149.7 145.4 149.5 146.0 149.2 146.6 149.0 147.1 148.8 147.7 148.6 148.3 148.3 148.9 148.1 149.4 147.8 150.0 147.6 150.6 147.4 151.2 147.1 151.7 146.9 152.3 146.7 152.9 146.4 153.4 146.2 154.0 145.9 154.6 145.7 155.2 145.5 155.7 145.2 156.3 145.0 156.9 144.7 157.5 144.5 158.0 144.2 158.6 144.0 159.2 143.7 159.8 143.5 160.3 143.2 160.9 142.9 161.5 142.7 162.1 142.4 162.6 142.1 163.2 141.9 163.8 141.6 164.3 141.3 164.9 141.1 165.5 140.8 166.1 140.5 166.6 140.2 167.2 139.9 167.8 139.6 168.4 139.3 168.9 139.0 169.4 138.7 169.9 138.3 170.4 137.9 170.8 137.4 171.2 136.8 171.4 136.2 171.6 135.6 171.9 134.9 172.0 134.3 172.2 133.5 172.3 132.7 172.4 132.0 172.5 131.3 172.6 130.5 172.7 129.6 172.8 128.7 173.0 127.6 173.1 126.4 173.1 125.8 173.2 125.2 173.2 124.5 173.3 123.9 173.3 123.2 173.4 122.4 173.4 121.7 173.5 120.9 173.5 120.1 173.6 119.3 173.6 118.5 173.7 117.6 173.7 116.8 173.8 115.9 173.8 115.0 173.9 114.1 173.9 113.2 174.0 112.3 174.0 111.4 174.1 110.5 174.2 109.7 174.2 108.9 174.3 108.1 174.3 107.3 174.4 106.4 174.4 105.6 174.5 104.8 174.5 103.9 174.6 103.1 174.6 102.2 174.7 101.4 174.7 100.6 174.8 99.8 174.8 99.0 174.9 98.2 174.9 97.4 175.0 96.7 175.0 96.0 175.1 95.2 175.1 94.6 175.2 93.9 175.2 93.3 175.3 92.6 175.4 91.5 175.5 90.4 175.6 89.4 175.7 88.5 175.8 87.6 175.9 86.9 176.0 86.2 176.1 85.6 176.3 84.8 176.4 84.1 176.6 83.5 176.8 82.9 177.1 82.2 177.4 81.6 177.7 81.1 178.2 80.7 178.7 80.3 179.3 80.0 179.8 79.7 180.4 79.4 181.0 79.2 181.6 79.0 182.1 78.7 182.7 78.5 183.3 78.3 183.9 78.0 184.4 77.8 185.0 77.6 185.6 77.4 186.1 77.1 186.7 76.9 187.3 76.7 187.9 76.5 188.4 76.2 189.0 76.0 189.6 75.8 190.2 75.5 190.7 75.3 191.3 75.1 191.9 74.9 192.5 74.6 193.0 74.4 193.6 74.2 194.2 74.0 194.8 73.7 195.3 73.5 195.9 73.3 196.5 73.1 197.0 72.8 197.6 72.6 198.2 72.4 198.8 72.2 199.3 72.0 199.9 71.7 200.5 71.5 201.1 71.3 201.6 71.1 202.2 70.8 202.8 70.6 203.4 70.4 203.9 70.2 204.5 69.9 205.1 69.7 205.6 69.5 206.2 69.3 206.8 69.1 207.4 68.8 207.9 68.6 208.5 68.4 209.1 68.2 209.7 68.0 210.2 67.7 210.8 67.5 211.4 67.3 212.0 67.1 212.5 66.9 213.1 66.6 213.7 66.4 214.3 66.2 214.8 66.0 215.4 65.8 216.0 65.5 216.5 65.3 217.1 65.1 217.7 64.9 218.3 64.7 218.8 64.4 219.4 64.2 220.0 64.0 220.6 63.8 221.1 63.6 221.7 63.4 222.3 63.1 222.9 62.9 223.4 62.7 224.0 62.5 224.6 62.3 225.2 62.0 225.7 61.8 226.3 61.6 226.9 61.4 227.4 61.2 228.0 61.0 228.6 60.7 229.2 60.5 229.7 60.3 230.3 60.1 230.9 59.9 231.5 59.7 232.0 59.4 232.6 59.2 233.2 59.0 233.8 58.8 234.3 58.6 234.9 58.4 235.5 58.1 236.1 57.9 236.6 57.7 237.2 57.5 237.8 57.3 238.3 57.1 238.9 56.9 239.5 56.6 240.1 56.4 240.6 56.2 241.2 56.0 241.8 55.8 242.4 55.6 242.9 55.3 243.5 55.1 244.1 54.9 244.7 54.7 245.2 54.5 245.8 54.3 246.4 54.1 247.0 53.8 247.5 53.6 248.1 53.4 248.7 53.2 249.2 53.0 249.8 52.8 250.4 52.6 251.0 52.3 251.5 52.1 252.1 51.9 252.7 51.7 253.3 51.5 253.8 51.3 254.4 51.1 255.0 50.8 255.6 50.6 256.1 50.4 256.7 50.2 257.3 50.0 257.9 49.8 258.4 49.6 259.0 49.4 259.6 49.1 260.1 48.9 260.7 48.7 261.3 48.5 261.9 48.3 262.4 48.1 263.0 47.9 263.6 47.6 264.2 47.4 264.7 47.2 265.3 47.0 265.9 46.8 266.3 46.6" stroke="#48aa28"/><path d="M266.3 54.3L265.7 54.5 265.2 54.7 264.6 54.9 264.0 55.1 263.4 55.3 262.9 55.5 262.3 55.7 261.7 55.9 261.1 56.1 260.6 56.3 260.0 56.5 259.4 56.8 258.8 57.0 258.3 57.2 257.7 57.4 257.1 57.6 256.5 57.8 256.0 58.0 255.4 58.2 254.8 58.4 254.3 58.6 253.7 58.8 253.1 59.0 252.5 59.2 252.0 59.4 251.4 59.7 250.8 59.9 250.2 60.1 249.7 60.3 249.1 60.5 248.5 60.7 247.9 60.9 247.4 61.1 246.8 61.3 246.2 61.5 245.6 61.7 245.1 61.9 244.5 62.2 243.9 62.4 243.4 62.6 242.8 62.8 242.2 63.0 241.6 63.2 241.1 63.4 240.5 63.6 239.9 63.8 239.3 64.0 238.8 64.2 238.2 64.4 237.6 64.7 237.0 64.9 236.5 65.1 235.9 65.3 235.3 65.5 234.7 65.7 234.2 65.9 233.6 66.1 233.0 66.3 232.5 66.5 231.9 66.7 231.3 67.0 230.7 67.2 230.2 67.4 229.6 67.6 229.0 67.8 228.4 68.0 227.9 68.2 227.3 68.4 226.7 68.6 226.1 68.9 225.6 69.1 225.0 69.3 224.4 69.5 223.8 69.7 223.3 69.9 222.7 70.1 222.1 70.3 221.6 70.5 221.0 70.7 220.4 71.0 219.8 71.2 219.3 71.4 218.7 71.6 218.1 71.8 217.5 72.0 217.0 72.2 216.4 72.4 215.8 72.7 215.2 72.9 214.7 73.1 214.1 73.3 213.5 73.5 213.0 73.7 212.4 73.9 211.8 74.1 211.2 74.4 210.7 74.6 210.1 74.8 209.5 75.0 208.9 75.2 208.4 75.4 207.8 75.6 207.2 75.9 206.6 76.1 206.1 76.3 205.5 76.5 204.9 76.7 204.3 76.9 203.8 77.1 203.2 77.4 202.6 77.6 202.1 77.8 201.5 78.0 200.9 78.2 200.3 78.4 199.8 78.7 199.2 78.9 198.6 79.1 198.0 79.3 197.5 79.5 196.9 79.7 196.3 80.0 195.7 80.2 195.2 80.4 194.6 80.6 194.0 80.8 193.4 81.1 192.9 81.3 192.3 81.5 191.7 81.7 191.2 81.9 190.6 82.2 190.0 82.4 189.4 82.6 188.9 82.8 188.3 83.0 187.7 83.3 187.1 83.5 186.6 83.7 186.0 83.9 185.4 84.1 184.8 84.4 184.3 84.6 183.7 84.8 183.1 85.0 182.5 85.3 182.0 85.5 181.4 85.7 180.8 85.9 180.3 86.2 179.7 86.4 179.1 86.6 178.5 86.8 178.0 87.1 177.4 87.3 176.8 87.5 176.2 87.7 175.7 88.0 175.1 88.2 174.5 88.4 173.9 88.7 173.4 88.9 172.8 89.1 172.2 89.3 171.6 89.6 171.1 89.8 170.5 90.0 169.9 90.3 169.4 90.5 168.8 90.7 168.2 91.0 167.6 91.2 167.1 91.4 166.5 91.7 165.9 91.9 165.3 92.2 164.8 92.4 164.2 92.6 163.6 92.9 163.0 93.1 162.5 93.3 161.9 93.6 161.3 93.8 160.7 94.1 160.2 94.3 159.6 94.6 159.0 94.8 158.5 95.1 157.9 95.4 157.3 95.7 156.8 96.1 156.3 96.5 156.0 97.1 155.7 97.8 155.5 98.5 155.3 99.2 155.2 100.1 155.1 100.8 155.0 101.6 154.9 102.6 154.8 103.7 154.7 104.3 154.6 105.0 154.6 105.6 154.5 106.4 154.5 107.1 154.4 108.0 154.4 108.8 154.3 109.7 154.3 110.6 154.2 111.5 154.2 112.5 154.1 113.5 154.1 114.4 154.0 115.4 154.0 116.4 153.9 117.4 153.8 118.5 153.7 119.6 153.6 120.7 153.5 121.8 153.4 122.8 153.3 123.8 153.2 124.7 153.1 125.5 153.0 126.2 152.9 126.8 152.7 127.7 152.6 128.4 152.4 129.0 152.2 129.7 152.0 130.3 151.7 130.9 151.4 131.5 151.1 132.1 150.7 132.7 150.4 133.2 150.0 133.7 149.6 134.2 149.2 134.8 148.8 135.3 148.4 135.7 148.0 136.2 147.6 136.7 147.1 137.1 146.6 137.6 146.1 138.0 145.7 138.5 145.2 138.9 144.7 139.2 144.3 139.6 143.7 140.0 143.2 140.4 142.7 140.8 142.2 141.1 141.7 141.5 141.1 141.8 140.6 142.1 140.1 142.5 139.6 142.8 139.1 143.1 138.5 143.4 137.9 143.7 137.3 144.0 136.8 144.3 136.2 144.6 135.6 144.9 135.0 145.1 134.5 145.4 133.9 145.7 133.3 146.0 132.7 146.2 132.2 146.5 131.6 146.7 131.0 147.0 130.4 147.2 129.9 147.5 129.3 147.7 128.7 148.0 128.2 148.2 127.6 148.5 127.0 148.7 126.4 148.9 125.9 149.2 125.3 149.4 124.7 149.7 124.1 149.9 123.6 150.1 123.0 150.3 122.4 150.6 121.8 150.8 121.3 151.0 120.7 151.3 120.1 151.5 119.5 151.7 119.0 151.9 118.4 152.2 117.8 152.4 117.3 152.6 116.7 152.8 116.1 153.0 115.5 153.3 115.0 153.5 114.4 153.7 113.8 153.9 113.2 154.2 112.7 154.4 112.1 154.6 111.5 154.8 110.9 155.0 110.4 155.2 109.8 155.5 109.2 155.7 108.7 155.9 108.1 156.1 107.5 156.3 106.9 156.6 106.4 156.8 105.8 157.0 105.2 157.2 104.6 157.4 104.1 157.6 103.5 157.9 102.9 158.1 102.3 158.3 101.8 158.5 101.2 158.7 100.6 158.9 100.0 159.1 99.5 159.4 98.9 159.6 98.3 159.8 97.8 160.0 97.2 160.2 96.6 160.4 96.0 160.6 95.5 160.9 94.9 161.1 94.3 161.3 93.7 161.5 93.2 161.7 92.6 161.9 92.0 162.1 91.4 162.3 90.9 162.6 90.3 162.8 89.7 163.0 89.1 163.2 88.6 163.4 88.0 163.6 87.4 163.8 86.9 164.0 86.3 164.2 85.7 164.5 85.1 164.7 84.6 164.9 84.0 165.1 83.4 165.3 82.8 165.5 82.3 165.7 81.7 165.9 81.1 166.1 80.5 166.4 80.0 166.6 79.4 166.8 78.8 167.0 78.2 167.2 77.7 167.4 77.1 167.6 76.5 167.8 76.0 168.0 75.4 168.2 74.8 168.5 74.2 168.7 73.7 168.9 73.1 169.1 72.5 169.3 71.9 169.5 71.4 169.7 70.8 169.9 70.2 170.1 69.6 170.3 69.1 170.5 68.5 170.8 67.9 171.0 67.3 171.2 66.8 171.4 66.2 171.6 65.6 171.8 65.1 172.0 64.5 172.2 63.9 172.4 63.3 172.6 62.8 172.8 62.2 173.0 61.6 173.3 61.0 173.5 60.5 173.7 59.9 173.9 59.3 174.1 58.7 174.3 58.2 174.5 58.8 174.3 59.4 174.1 59.9 173.9 60.5 173.7 61.1 173.5 61.7 173.3 62.2 173.1 62.8 172.9 63.4 172.7 64.0 172.5 64.5 172.3 65.1 172.1 65.7 171.9 66.3 171.6 66.8 171.4 67.4 171.2 68.0 171.0 68.5 170.8 69.1 170.6 69.7 170.4 70.3 170.2 70.8 170.0 71.4 169.8 72.0 169.6 72.6 169.4 73.1 169.2 73.7 169.0 74.3 168.7 74.9 168.5 75.4 168.3 76.0 168.1 76.6 167.9 77.2 167.7 77.7 167.5 78.3 167.3 78.9 167.1 79.4 166.9 80.0 166.7 80.6 166.5 81.2 166.2 81.7 166.0 82.3 165.8 82.9 165.6 83.5 165.4 84.0 165.2 84.6 165.0 85.2 164.8 85.8 164.6 86.3 164.4 86.9 164.2 87.5 163.9 88.1 163.7 88.6 163.5 89.2 163.3 89.8 163.1 90.3 162.9 90.9 162.7 91.5 162.5 92.1 162.3 92.6 162.1 93.2 161.9 93.8 161.6 94.4 161.4 94.9 161.2 95.5 161.0 96.1 160.8 96.7 160.6 97.2 160.4 97.8 160.2 98.4 160.0 99.0 159.8 99.5 159.5 100.1 159.3 100.7 159.1 101.2 158.9 101.8 158.7 102.4 158.5 103.0 158.3 103.5 158.1 104.1 157.9 104.7 157.6 105.3 157.4 105.8 157.2 106.4 157.0 107.0 156.8 107.6 156.6 108.1 156.4 108.7 156.2 109.3 155.9 109.8 155.7 110.4 155.5 111.0 155.3 111.6 155.1 112.1 154.9 112.7 154.7 113.3 154.5 113.9 154.2 114.4 154.0 115.0 153.8 115.6 153.6 116.2 153.4 116.7 153.2 117.3 153.0 117.9 152.7 118.5 152.5 119.0 152.3 119.6 152.1 120.2 151.9 120.7 151.7 121.3 151.5 121.9 151.2 122.5 151.0 123.0 150.8 123.6 150.6 124.2 150.4 124.8 150.2 125.3 149.9 125.9 149.7 126.5 149.5 127.1 149.3 127.6 149.1 128.2 148.9 128.8 148.6 129.4 148.4 129.9 148.2 130.5 148.0 131.1 147.8 131.6 147.5 132.2 147.3 132.8 147.1 133.4 146.9 133.9 146.7 134.5 146.4 135.1 146.2 135.7 146.0 136.2 145.8 136.8 145.6 137.4 145.3 138.0 145.1 138.5 144.9 139.1 144.7 139.7 144.5 140.3 144.2 140.8 144.0 141.4 143.8 142.0 143.6 142.5 143.3 143.1 143.1 143.7 142.9 144.3 142.7 144.8 142.4 145.4 142.2 146.0 142.0 146.6 141.8 147.1 141.5 147.7 141.3 148.3 141.1 148.9 140.8 149.4 140.6 150.0 140.4 150.6 140.2 151.2 139.9 151.7 139.7 152.3 139.5 152.9 139.2 153.4 139.0 154.0 138.8 154.6 138.5 155.2 138.3 155.7 138.1 156.3 137.8 156.9 137.6 157.5 137.4 158.0 137.1 158.6 136.9 159.2 136.7 159.8 136.4 160.3 136.2 160.9 136.0 161.5 135.7 162.1 135.5 162.6 135.2 163.2 135.0 163.8 134.8 164.3 134.5 164.9 134.3 165.5 134.0 166.1 133.7 166.6 133.5 167.2 133.1 167.7 132.8 168.2 132.3 168.6 131.8 168.8 131.2 169.0 130.6 169.2 130.0 169.4 129.2 169.5 128.6 169.6 127.9 169.7 127.0 169.8 126.0 169.9 124.9 169.9 124.2 170.0 123.6 170.0 122.9 170.1 122.1 170.1 121.3 170.2 120.5 170.2 119.7 170.3 118.8 170.3 117.9 170.4 116.9 170.4 115.9 170.5 115.0 170.6 114.0 170.6 113.0 170.7 112.0 170.7 111.2 170.8 110.1 170.9 109.0 171.0 107.9 171.1 106.8 171.2 105.8 171.3 104.8 171.4 104.0 171.5 103.2 171.6 102.5 171.8 101.8 171.9 101.0 172.1 100.3 172.2 99.7 172.4 99.0 172.6 98.4 172.9 97.8 173.2 97.2 173.5 96.7 173.9 96.1 174.3 95.5 174.6 95.0 175.0 94.5 175.4 94.0 175.8 93.5 176.2 93.0 176.7 92.6 177.1 92.1 177.5 91.6 178.0 91.2 178.5 90.7 178.9 90.3 179.4 89.9 179.9 89.5 180.4 89.1 180.9 88.7 181.5 88.3 182.0 88.0 182.5 87.6 183.0 87.3 183.5 86.9 184.1 86.6 184.6 86.3 185.1 86.0 185.6 85.7 186.2 85.4 186.8 85.1 187.3 84.8 187.9 84.5 188.5 84.2 189.1 83.9 189.6 83.6 190.2 83.3 190.8 83.1 191.4 82.8 191.9 82.5 192.5 82.3 193.1 82.0 193.7 81.8 194.2 81.5 194.8 81.3 195.4 81.0 195.9 80.8 196.5 80.5 197.1 80.3 197.7 80.0 198.2 79.8 198.8 79.6 199.4 79.3 200.0 79.1 200.5 78.9 201.1 78.6 201.7 78.4 202.3 78.2 202.8 78.0 203.4 77.7 204.0 77.5 204.6 77.3 205.1 77.0 205.7 76.8 206.3 76.6 206.8 76.4 207.4 76.2 208.0 75.9 208.6 75.7 209.1 75.5 209.7 75.3 210.3 75.0 210.9 74.8 211.4 74.6 212.0 74.4 212.6 74.2 213.2 73.9 213.7 73.7 214.3 73.5 214.9 73.3 215.5 73.1 216.0 72.9 216.6 72.6 217.2 72.4 217.7 72.2 218.3 72.0 218.9 71.8 219.5 71.6 220.0 71.3 220.6 71.1 221.2 70.9 221.8 70.7 222.3 70.5 222.9 70.3 223.5 70.0 224.1 69.8 224.6 69.6 225.2 69.4 225.8 69.2 226.4 69.0 226.9 68.8 227.5 68.5 228.1 68.3 228.6 68.1 229.2 67.9 229.8 67.7 230.4 67.5 230.9 67.3 231.5 67.1 232.1 66.8 232.7 66.6 233.2 66.4 233.8 66.2 234.4 66.0 235.0 65.8 235.5 65.6 236.1 65.4 236.7 65.1 237.3 64.9 237.8 64.7 238.4 64.5 239.0 64.3 239.5 64.1 240.1 63.9 240.7 63.7 241.3 63.5 241.8 63.2 242.4 63.0 243.0 62.8 243.6 62.6 244.1 62.4 244.7 62.2 245.3 62.0 245.9 61.8 246.4 61.6 247.0 61.4 247.6 61.1 248.2 60.9 248.7 60.7 249.3 60.5 249.9 60.3 250.4 60.1 251.0 59.9 251.6 59.7 252.2 59.5 252.7 59.3 253.3 59.0 253.9 58.8 254.5 58.6 255.0 58.4 255.6 58.2 256.2 58.0 256.8 57.8 257.3 57.6 257.9 57.4 258.5 57.2 259.1 57.0 259.6 56.8 260.2 56.5 260.8 56.3 261.3 56.1 261.9 55.9 262.5 55.7 263.1 55.5 263.6 55.3 264.2 55.1 264.8 54.9 265.4 54.7 265.9 54.5 266.3 54.3" stroke="#0c2a8c"/><path d="M266.3 61.3L265.7 61.5 265.2 61.7 264.6 61.9 264.0 62.1 263.4 62.3 262.9 62.5 262.3 62.7 261.7 62.9 261.1 63.1 260.6 63.3 260.0 63.5 259.4 63.7 258.8 63.9 258.3 64.1 257.7 64.3 257.1 64.5 256.5 64.7 256.0 64.9 255.4 65.1 254.8 65.3 254.3 65.5 253.7 65.7 253.1 65.9 252.5 66.1 252.0 66.3 251.4 66.5 250.8 66.7 250.2 66.9 249.7 67.1 249.1 67.3 248.5 67.5 247.9 67.7 247.4 67.9 246.8 68.1 246.2 68.3 245.6 68.5 245.1 68.8 244.5 69.0 243.9 69.2 243.4 69.4 242.8 69.6 242.2 69.8 241.6 70.0 241.1 70.2 240.5 70.4 239.9 70.6 239.3 70.8 238.8 71.0 238.2 71.2 237.6 71.4 237.0 71.6 236.5 71.8 235.9 72.0 235.3 72.2 234.7 72.4 234.2 72.6 233.6 72.8 233.0 73.0 232.5 73.2 231.9 73.4 231.3 73.6 230.7 73.8 230.2 74.0 229.6 74.2 229.0 74.4 228.4 74.6 227.9 74.8 227.3 75.0 226.7 75.2 226.1 75.4 225.6 75.7 225.0 75.9 224.4 76.1 223.8 76.3 223.3 76.5 222.7 76.7 222.1 76.9 221.6 77.1 221.0 77.3 220.4 77.5 219.8 77.7 219.3 77.9 218.7 78.1 218.1 78.3 217.5 78.5 217.0 78.7 216.4 78.9 215.8 79.1 215.2 79.3 214.7 79.5 214.1 79.7 213.5 80.0 213.0 80.2 212.4 80.4 211.8 80.6 211.2 80.8 210.7 81.0 210.1 81.2 209.5 81.4 208.9 81.6 208.4 81.8 207.8 82.0 207.2 82.2 206.6 82.4 206.1 82.6 205.5 82.9 204.9 83.1 204.3 83.3 203.8 83.5 203.2 83.7 202.6 83.9 202.1 84.1 201.5 84.3 200.9 84.5 200.3 84.7 199.8 85.0 199.2 85.2 198.6 85.4 198.0 85.6 197.5 85.8 196.9 86.0 196.3 86.2 195.7 86.4 195.2 86.6 194.6 86.9 194.0 87.1 193.4 87.3 192.9 87.5 192.3 87.7 191.7 87.9 191.2 88.1 190.6 88.4 190.0 88.6 189.4 88.8 188.9 89.0 188.3 89.2 187.7 89.5 187.1 89.7 186.6 89.9 186.0 90.1 185.4 90.3 184.8 90.5 184.3 90.8 183.7 91.0 183.1 91.2 182.5 91.4 182.0 91.7 181.4 91.9 180.8 92.1 180.3 92.3 179.7 92.6 179.1 92.8 178.5 93.0 178.0 93.3 177.4 93.5 176.8 93.7 176.2 93.9 175.7 94.2 175.1 94.4 174.5 94.6 173.9 94.9 173.4 95.1 172.8 95.4 172.2 95.6 171.6 95.8 171.1 96.1 170.5 96.3 169.9 96.6 169.4 96.8 168.8 97.0 168.2 97.3 167.6 97.5 167.1 97.8 166.5 98.0 165.9 98.3 165.3 98.5 164.8 98.8 164.2 99.1 163.6 99.3 163.0 99.6 162.5 99.8 161.9 100.1 161.3 100.4 160.7 100.6 160.2 100.9 159.6 101.2 159.0 101.5 158.6 101.9 158.2 102.4 157.9 103.1 157.8 103.7 157.6 104.5 157.5 105.3 157.4 106.1 157.3 107.2 157.3 107.8 157.2 108.5 157.2 109.2 157.1 110.0 157.0 110.8 157.0 111.6 156.9 112.4 156.9 113.3 156.8 114.2 156.8 115.0 156.7 115.9 156.7 116.6 156.6 117.4 156.6 118.1 156.5 118.8 156.5 119.6 156.4 120.3 156.4 121.0 156.3 121.6 156.3 122.3 156.2 123.4 156.1 124.4 156.0 125.3 155.8 126.0 155.7 126.6 155.6 127.4 155.4 128.0 155.2 128.6 155.0 129.1 154.6 129.6 154.3 130.1 153.9 130.6 153.4 131.0 152.9 131.4 152.4 131.8 151.9 132.1 151.4 132.5 150.8 132.7 150.3 133.1 149.7 133.4 149.1 133.6 148.5 133.9 148.0 134.2 147.4 134.4 146.8 134.7 146.3 135.0 145.7 135.2 145.1 135.5 144.5 135.7 144.0 136.0 143.4 136.2 142.8 136.4 142.2 136.7 141.7 136.9 141.1 137.2 140.5 137.4 139.9 137.6 139.4 137.9 138.8 138.1 138.2 138.3 137.6 138.6 137.1 138.8 136.5 139.0 135.9 139.3 135.4 139.5 134.8 139.7 134.2 140.0 133.6 140.2 133.1 140.4 132.5 140.6 131.9 140.9 131.3 141.1 130.8 141.3 130.2 141.5 129.6 141.8 129.0 142.0 128.5 142.2 127.9 142.4 127.3 142.6 126.7 142.9 126.2 143.1 125.6 143.3 125.0 143.5 124.5 143.7 123.9 144.0 123.3 144.2 122.7 144.4 122.2 144.6 121.6 144.8 121.0 145.0 120.4 145.3 119.9 145.5 119.3 145.7 118.7 145.9 118.1 146.1 117.6 146.3 117.0 146.5 116.4 146.7 115.8 147.0 115.3 147.2 114.7 147.4 114.1 147.6 113.6 147.8 113.0 148.0 112.4 148.2 111.8 148.4 111.3 148.6 110.7 148.9 110.1 149.1 109.5 149.3 109.0 149.5 108.4 149.7 107.8 149.9 107.2 150.1 106.7 150.3 106.1 150.5 105.5 150.7 104.9 150.9 104.4 151.1 103.8 151.4 103.2 151.6 102.7 151.8 102.1 152.0 101.5 152.2 100.9 152.4 100.4 152.6 99.8 152.8 99.2 153.0 98.6 153.2 98.1 153.4 97.5 153.6 96.9 153.8 96.3 154.0 95.8 154.2 95.2 154.4 94.6 154.6 94.0 154.9 93.5 155.1 92.9 155.3 92.3 155.5 91.8 155.7 91.2 155.9 90.6 156.1 90.0 156.3 89.5 156.5 88.9 156.7 88.3 156.9 87.7 157.1 87.2 157.3 86.6 157.5 86.0 157.7 85.4 157.9 84.9 158.1 84.3 158.3 83.7 158.5 83.1 158.7 82.6 158.9 82.0 159.1 81.4 159.3 80.9 159.5 80.3 159.7 79.7 159.9 79.1 160.2 78.6 160.4 78.0 160.6 77.4 160.8 76.8 161.0 76.3 161.2 75.7 161.4 75.1 161.6 74.5 161.8 74.0 162.0 73.4 162.2 72.8 162.4 72.2 162.6 71.7 162.8 71.1 163.0 70.5 163.2 70.0 163.4 69.4 163.6 68.8 163.8 68.2 164.0 67.7 164.2 67.1 164.4 66.5 164.6 65.9 164.8 65.4 165.0 64.8 165.2 64.2 165.4 63.6 165.6 63.1 165.8 62.5 166.0 61.9 166.2 61.4 166.4 60.8 166.6 60.2 166.8 59.6 167.0 59.1 167.2 58.5 167.4 57.9 167.6 58.5 167.4 59.1 167.2 59.6 167.0 60.2 166.8 60.8 166.6 61.4 166.4 61.9 166.2 62.5 166.0 63.1 165.8 63.6 165.6 64.2 165.4 64.8 165.2 65.4 165.0 65.9 164.8 66.5 164.6 67.1 164.4 67.7 164.2 68.2 164.0 68.8 163.8 69.4 163.6 70.0 163.4 70.5 163.2 71.1 163.0 71.7 162.8 72.2 162.6 72.8 162.4 73.4 162.2 74.0 162.0 74.5 161.8 75.1 161.6 75.7 161.4 76.3 161.2 76.8 161.0 77.4 160.8 78.0 160.6 78.6 160.4 79.1 160.2 79.7 160.0 80.3 159.8 80.9 159.6 81.4 159.4 82.0 159.2 82.6 159.0 83.1 158.8 83.7 158.6 84.3 158.4 84.9 158.2 85.4 157.9 86.0 157.7 86.6 157.5 87.2 157.3 87.7 157.1 88.3 156.9 88.9 156.7 89.5 156.5 90.0 156.3 90.6 156.1 91.2 155.9 91.8 155.7 92.3 155.5 92.9 155.3 93.5 155.1 94.0 154.9 94.6 154.7 95.2 154.5 95.8 154.3 96.3 154.1 96.9 153.9 97.5 153.7 98.1 153.5 98.6 153.3 99.2 153.1 99.8 152.9 100.4 152.7 100.9 152.5 101.5 152.3 102.1 152.1 102.7 151.8 103.2 151.6 103.8 151.4 104.4 151.2 104.9 151.0 105.5 150.8 106.1 150.6 106.7 150.4 107.2 150.2 107.8 150.0 108.4 149.8 109.0 149.6 109.5 149.4 110.1 149.2 110.7 149.0 111.3 148.8 111.8 148.6 112.4 148.4 113.0 148.2 113.6 147.9 114.1 147.7 114.7 147.5 115.3 147.3 115.8 147.1 116.4 146.9 117.0 146.7 117.6 146.5 118.1 146.3 118.7 146.1 119.3 145.9 119.9 145.7 120.4 145.5 121.0 145.2 121.6 145.0 122.2 144.8 122.7 144.6 123.3 144.4 123.9 144.2 124.5 144.0 125.0 143.8 125.6 143.6 126.2 143.4 126.7 143.1 127.3 142.9 127.9 142.7 128.5 142.5 129.0 142.3 129.6 142.1 130.2 141.9 130.8 141.7 131.3 141.4 131.9 141.2 132.5 141.0 133.1 140.8 133.6 140.6 134.2 140.4 134.8 140.1 135.4 139.9 135.9 139.7 136.5 139.5 137.1 139.3 137.6 139.1 138.2 138.8 138.8 138.6 139.4 138.4 139.9 138.2 140.5 138.0 141.1 137.7 141.7 137.5 142.2 137.3 142.8 137.1 143.4 136.8 144.0 136.6 144.5 136.4 145.1 136.2 145.7 135.9 146.3 135.7 146.8 135.5 147.4 135.2 148.0 135.0 148.5 134.8 149.1 134.5 149.7 134.3 150.3 134.1 150.8 133.8 151.4 133.6 152.0 133.4 152.6 133.1 153.1 132.9 153.7 132.6 154.3 132.4 154.9 132.2 155.4 131.9 156.0 131.7 156.6 131.4 157.2 131.2 157.7 130.9 158.3 130.7 158.9 130.4 159.4 130.2 160.0 129.9 160.6 129.7 161.2 129.4 161.7 129.1 162.3 128.9 162.9 128.6 163.5 128.3 164.0 128.1 164.6 127.8 165.2 127.5 165.7 127.2 166.2 126.8 166.5 126.3 166.8 125.6 167.0 124.9 167.1 124.1 167.2 123.3 167.3 122.4 167.4 121.3 167.5 120.6 167.5 119.9 167.6 119.2 167.6 118.4 167.7 117.6 167.7 116.8 167.8 115.9 167.8 115.0 167.9 114.2 167.9 113.3 168.0 112.5 168.0 111.8 168.1 111.0 168.2 110.3 168.2 109.6 168.3 108.8 168.3 108.1 168.4 107.5 168.4 106.8 168.5 106.2 168.6 105.1 168.7 104.1 168.8 103.3 168.9 102.6 169.0 102.0 169.1 101.3 169.4 100.5 169.6 99.9 169.9 99.3 170.3 98.8 170.7 98.3 171.2 97.9 171.6 97.5 172.2 97.1 172.7 96.7 173.2 96.4 173.7 96.1 174.3 95.8 174.9 95.5 175.5 95.2 176.0 94.9 176.6 94.6 177.2 94.4 177.7 94.1 178.3 93.9 178.9 93.6 179.5 93.4 180.0 93.1 180.6 92.9 181.2 92.6 181.8 92.4 182.3 92.1 182.9 91.9 183.5 91.6 184.1 91.4 184.6 91.2 185.2 90.9 185.8 90.7 186.4 90.5 186.9 90.2 187.5 90.0 188.1 89.8 188.6 89.5 189.2 89.3 189.8 89.1 190.4 88.8 190.9 88.6 191.5 88.4 192.1 88.2 192.7 87.9 193.2 87.7 193.8 87.5 194.4 87.3 195.0 87.0 195.5 86.8 196.1 86.6 196.7 86.4 197.3 86.2 197.8 85.9 198.4 85.7 199.0 85.5 199.5 85.3 200.1 85.1 200.7 84.8 201.3 84.6 201.8 84.4 202.4 84.2 203.0 84.0 203.6 83.8 204.1 83.5 204.7 83.3 205.3 83.1 205.9 82.9 206.4 82.7 207.0 82.5 207.6 82.3 208.2 82.1 208.7 81.8 209.3 81.6 209.9 81.4 210.4 81.2 211.0 81.0 211.6 80.8 212.2 80.6 212.7 80.4 213.3 80.2 213.9 79.9 214.5 79.7 215.0 79.5 215.6 79.3 216.2 79.1 216.8 78.9 217.3 78.7 217.9 78.5 218.5 78.3 219.1 78.1 219.6 77.9 220.2 77.7 220.8 77.4 221.3 77.2 221.9 77.0 222.5 76.8 223.1 76.6 223.6 76.4 224.2 76.2 224.8 76.0 225.4 75.8 225.9 75.6 226.5 75.4 227.1 75.2 227.7 75.0 228.2 74.8 228.8 74.6 229.4 74.4 230.0 74.2 230.5 73.9 231.1 73.7 231.7 73.5 232.2 73.3 232.8 73.1 233.4 72.9 234.0 72.7 234.5 72.5 235.1 72.3 235.7 72.1 236.3 71.9 236.8 71.7 237.4 71.5 238.0 71.3 238.6 71.1 239.1 70.9 239.7 70.7 240.3 70.5 240.9 70.3 241.4 70.1 242.0 69.9 242.6 69.7 243.1 69.5 243.7 69.3 244.3 69.1 244.9 68.9 245.4 68.6 246.0 68.4 246.6 68.2 247.2 68.0 247.7 67.8 248.3 67.6 248.9 67.4 249.5 67.2 250.0 67.0 250.6 66.8 251.2 66.6 251.8 66.4 252.3 66.2 252.9 66.0 253.5 65.8 254.0 65.6 254.6 65.4 255.2 65.2 255.8 65.0 256.3 64.8 256.9 64.6 257.5 64.4 258.1 64.2 258.6 64.0 259.2 63.8 259.8 63.6 260.4 63.4 260.9 63.2 261.5 63.0 262.1 62.8 262.6 62.6 263.2 62.4 263.8 62.2 264.4 62.0 264.9 61.8 265.5 61.6 266.1 61.4 266.3 61.3" stroke="#0a8ac8"/><path d="M266.3 65.9L265.7 66.1 265.2 66.3 264.6 66.5 264.0 66.7 263.4 66.9 262.9 67.1 262.3 67.3 261.7 67.5 261.1 67.7 260.6 67.9 260.0 68.1 259.4 68.3 258.8 68.5 258.3 68.7 257.7 68.9 257.1 69.1 256.5 69.3 256.0 69.5 255.4 69.6 254.8 69.8 254.3 70.0 253.7 70.2 253.1 70.4 252.5 70.6 252.0 70.8 251.4 71.0 250.8 71.2 250.2 71.4 249.7 71.6 249.1 71.8 248.5 72.0 247.9 72.2 247.4 72.4 246.8 72.6 246.2 72.8 245.6 73.0 245.1 73.2 244.5 73.4 243.9 73.6 243.4 73.8 242.8 74.0 242.2 74.2 241.6 74.4 241.1 74.6 240.5 74.8 239.9 74.9 239.3 75.1 238.8 75.3 238.2 75.5 237.6 75.7 237.0 75.9 236.5 76.1 235.9 76.3 235.3 76.5 234.7 76.7 234.2 76.9 233.6 77.1 233.0 77.3 232.5 77.5 231.9 77.7 231.3 77.9 230.7 78.1 230.2 78.3 229.6 78.5 229.0 78.7 228.4 78.9 227.9 79.1 227.3 79.3 226.7 79.5 226.1 79.7 225.6 79.9 225.0 80.1 224.4 80.3 223.8 80.5 223.3 80.7 222.7 80.9 222.1 81.1 221.6 81.3 221.0 81.5 220.4 81.7 219.8 81.9 219.3 82.1 218.7 82.3 218.1 82.5 217.5 82.7 217.0 82.9 216.4 83.1 215.8 83.3 215.2 83.5 214.7 83.7 214.1 83.9 213.5 84.1 213.0 84.3 212.4 84.5 211.8 84.7 211.2 84.9 210.7 85.1 210.1 85.3 209.5 85.5 208.9 85.7 208.4 86.0 207.8 86.2 207.2 86.4 206.6 86.6 206.1 86.8 205.5 87.0 204.9 87.2 204.3 87.4 203.8 87.6 203.2 87.8 202.6 88.0 202.1 88.2 201.5 88.4 200.9 88.6 200.3 88.8 199.8 89.0 199.2 89.3 198.6 89.5 198.0 89.7 197.5 89.9 196.9 90.1 196.3 90.3 195.7 90.5 195.2 90.7 194.6 90.9 194.0 91.2 193.4 91.4 192.9 91.6 192.3 91.8 191.7 92.0 191.2 92.2 190.6 92.5 190.0 92.7 189.4 92.9 188.9 93.1 188.3 93.3 187.7 93.6 187.1 93.8 186.6 94.0 186.0 94.2 185.4 94.5 184.8 94.7 184.3 94.9 183.7 95.1 183.1 95.4 182.5 95.6 182.0 95.8 181.4 96.1 180.8 96.3 180.3 96.5 179.7 96.8 179.1 97.0 178.5 97.3 178.0 97.5 177.4 97.8 176.8 98.0 176.2 98.3 175.7 98.5 175.1 98.8 174.5 99.0 173.9 99.3 173.4 99.6 172.8 99.8 172.2 100.1 171.6 100.4 171.1 100.6 170.5 100.9 169.9 101.2 169.4 101.5 168.8 101.8 168.2 102.1 167.6 102.4 167.1 102.7 166.5 103.0 165.9 103.3 165.3 103.7 164.8 104.0 164.3 104.3 163.8 104.6 163.3 104.9 162.7 105.2 162.2 105.5 161.7 105.9 161.2 106.2 160.6 106.6 160.2 107.1 159.8 107.6 159.5 108.2 159.3 108.9 159.2 109.6 159.1 110.2 159.0 110.9 158.9 111.7 158.8 112.6 158.7 113.6 158.6 114.7 158.5 115.7 158.3 116.5 158.1 117.4 158.0 118.0 157.9 118.8 157.7 119.6 157.6 120.3 157.4 120.9 157.2 121.6 157.0 122.2 156.7 122.8 156.4 123.4 156.1 124.0 155.7 124.5 155.4 125.1 155.0 125.6 154.5 126.1 154.1 126.5 153.7 127.0 153.2 127.4 152.7 127.8 152.2 128.2 151.7 128.6 151.2 129.0 150.6 129.3 150.1 129.6 149.5 129.9 149.0 130.2 148.4 130.5 147.8 130.8 147.2 131.0 146.7 131.3 146.1 131.6 145.5 131.8 144.9 132.0 144.4 132.3 143.8 132.5 143.2 132.7 142.7 133.0 142.1 133.2 141.5 133.4 140.9 133.7 140.4 133.9 139.8 134.1 139.2 134.3 138.6 134.5 138.1 134.7 137.5 135.0 136.9 135.2 136.3 135.4 135.8 135.6 135.2 135.8 134.6 136.0 134.0 136.3 133.5 136.5 132.9 136.7 132.3 136.9 131.8 137.1 131.2 137.3 130.6 137.5 130.0 137.7 129.5 137.9 128.9 138.2 128.3 138.4 127.7 138.6 127.2 138.8 126.6 139.0 126.0 139.2 125.4 139.4 124.9 139.6 124.3 139.8 123.7 140.0 123.1 140.2 122.6 140.5 122.0 140.7 121.4 140.9 120.9 141.1 120.3 141.3 119.7 141.5 119.1 141.7 118.6 141.9 118.0 142.1 117.4 142.3 116.8 142.5 116.3 142.7 115.7 142.9 115.1 143.1 114.5 143.3 114.0 143.5 113.4 143.7 112.8 143.9 112.2 144.2 111.7 144.4 111.1 144.6 110.5 144.8 110.0 145.0 109.4 145.2 108.8 145.4 108.2 145.6 107.7 145.8 107.1 146.0 106.5 146.2 105.9 146.4 105.4 146.6 104.8 146.8 104.2 147.0 103.6 147.2 103.1 147.4 102.5 147.6 101.9 147.8 101.3 148.0 100.8 148.2 100.2 148.4 99.6 148.6 99.1 148.8 98.5 149.0 97.9 149.2 97.3 149.4 96.8 149.6 96.2 149.8 95.6 150.0 95.0 150.2 94.5 150.4 93.9 150.6 93.3 150.8 92.7 151.0 92.2 151.2 91.6 151.4 91.0 151.6 90.5 151.8 89.9 152.0 89.3 152.2 88.7 152.4 88.2 152.6 87.6 152.8 87.0 153.0 86.4 153.2 85.9 153.4 85.3 153.6 84.7 153.8 84.1 154.0 83.6 154.2 83.0 154.4 82.4 154.6 81.8 154.8 81.3 155.0 80.7 155.2 80.1 155.4 79.6 155.6 79.0 155.8 78.4 156.0 77.8 156.2 77.3 156.3 76.7 156.5 76.1 156.7 75.5 156.9 75.0 157.1 74.4 157.3 73.8 157.5 73.2 157.7 72.7 157.9 72.1 158.1 71.5 158.3 70.9 158.5 70.4 158.7 69.8 158.9 69.2 159.1 68.7 159.3 68.1 159.5 67.5 159.7 66.9 159.9 66.4 160.1 65.8 160.3 65.2 160.5 64.6 160.7 64.1 160.9 63.5 161.1 62.9 161.3 62.3 161.5 61.8 161.7 61.2 161.8 60.6 162.0 60.0 162.2 59.5 162.4 58.9 162.6 58.3 162.8 57.8 163.0 58.4 162.8 59.0 162.6 59.5 162.4 60.1 162.2 60.7 162.1 61.2 161.9 61.8 161.7 62.4 161.5 63.0 161.3 63.5 161.1 64.1 160.9 64.7 160.7 65.3 160.5 65.8 160.3 66.4 160.1 67.0 159.9 67.6 159.7 68.1 159.5 68.7 159.3 69.3 159.1 69.9 158.9 70.4 158.7 71.0 158.5 71.6 158.3 72.1 158.1 72.7 157.9 73.3 157.7 73.9 157.6 74.4 157.4 75.0 157.2 75.6 157.0 76.2 156.8 76.7 156.6 77.3 156.4 77.9 156.2 78.5 156.0 79.0 155.8 79.6 155.6 80.2 155.4 80.8 155.2 81.3 155.0 81.9 154.8 82.5 154.6 83.0 154.4 83.6 154.2 84.2 154.0 84.8 153.8 85.3 153.6 85.9 153.4 86.5 153.2 87.1 153.0 87.6 152.8 88.2 152.6 88.8 152.4 89.4 152.2 89.9 152.0 90.5 151.8 91.1 151.6 91.6 151.4 92.2 151.2 92.8 151.0 93.4 150.8 93.9 150.6 94.5 150.4 95.1 150.2 95.7 150.0 96.2 149.9 96.8 149.7 97.4 149.5 98.0 149.3 98.5 149.1 99.1 148.9 99.7 148.7 100.3 148.5 100.8 148.3 101.4 148.1 102.0 147.9 102.5 147.7 103.1 147.5 103.7 147.3 104.3 147.1 104.8 146.9 105.4 146.6 106.0 146.4 106.6 146.2 107.1 146.0 107.7 145.8 108.3 145.6 108.9 145.4 109.4 145.2 110.0 145.0 110.6 144.8 111.2 144.6 111.7 144.4 112.3 144.2 112.9 144.0 113.4 143.8 114.0 143.6 114.6 143.4 115.2 143.2 115.7 143.0 116.3 142.8 116.9 142.6 117.5 142.4 118.0 142.2 118.6 142.0 119.2 141.8 119.8 141.6 120.3 141.4 120.9 141.1 121.5 140.9 122.1 140.7 122.6 140.5 123.2 140.3 123.8 140.1 124.3 139.9 124.9 139.7 125.5 139.5 126.1 139.3 126.6 139.1 127.2 138.8 127.8 138.6 128.4 138.4 128.9 138.2 129.5 138.0 130.1 137.8 130.7 137.6 131.2 137.3 131.8 137.1 132.4 136.9 133.0 136.7 133.5 136.5 134.1 136.3 134.7 136.0 135.2 135.8 135.8 135.6 136.4 135.4 137.0 135.1 137.5 134.9 138.1 134.7 138.7 134.5 139.3 134.2 139.8 134.0 140.4 133.8 141.0 133.5 141.6 133.3 142.1 133.1 142.7 132.8 143.3 132.6 143.9 132.4 144.4 132.1 145.0 131.9 145.6 131.6 146.1 131.4 146.7 131.1 147.3 130.9 147.9 130.6 148.4 130.4 149.0 130.1 149.6 129.8 150.2 129.6 150.7 129.3 151.3 129.0 151.9 128.8 152.5 128.5 153.0 128.2 153.6 127.9 154.2 127.6 154.8 127.3 155.3 127.0 155.9 126.7 156.5 126.4 157.0 126.1 157.6 125.8 158.2 125.5 158.7 125.2 159.2 124.9 159.8 124.5 160.3 124.2 160.8 123.9 161.3 123.6 161.8 123.2 162.4 122.9 162.9 122.5 163.3 122.0 163.7 121.4 163.9 120.7 164.1 120.1 164.2 119.3 164.3 118.7 164.5 117.9 164.6 117.0 164.7 116.1 164.8 115.1 164.9 114.0 165.0 113.2 165.1 112.4 165.3 111.5 165.4 110.7 165.6 109.9 165.8 109.1 165.9 108.5 166.1 107.8 166.3 107.2 166.6 106.6 166.8 106.0 167.2 105.4 167.5 104.9 167.8 104.4 168.2 103.9 168.6 103.4 169.0 102.9 169.5 102.5 169.9 102.0 170.4 101.6 170.9 101.2 171.4 100.8 171.9 100.5 172.4 100.1 173.0 99.8 173.5 99.5 174.0 99.2 174.6 98.9 175.2 98.6 175.8 98.3 176.3 98.1 176.9 97.8 177.5 97.6 178.1 97.3 178.6 97.1 179.2 96.8 179.8 96.6 180.4 96.4 180.9 96.2 181.5 95.9 182.1 95.7 182.7 95.5 183.2 95.3 183.8 95.0 184.4 94.8 184.9 94.6 185.5 94.4 186.1 94.2 186.7 93.9 187.2 93.7 187.8 93.5 188.4 93.3 189.0 93.1 189.5 92.9 190.1 92.7 190.7 92.5 191.3 92.2 191.8 92.0 192.4 91.8 193.0 91.6 193.6 91.4 194.1 91.2 194.7 91.0 195.3 90.8 195.8 90.6 196.4 90.3 197.0 90.1 197.6 89.9 198.1 89.7 198.7 89.5 199.3 89.3 199.9 89.1 200.4 88.9 201.0 88.7 201.6 88.5 202.2 88.3 202.7 88.1 203.3 87.9 203.9 87.6 204.5 87.4 205.0 87.2 205.6 87.0 206.2 86.8 206.7 86.6 207.3 86.4 207.9 86.2 208.5 86.0 209.0 85.8 209.6 85.6 210.2 85.4 210.8 85.2 211.3 85.0 211.9 84.8 212.5 84.6 213.1 84.4 213.6 84.2 214.2 84.0 214.8 83.8 215.3 83.6 215.9 83.4 216.5 83.2 217.1 83.0 217.6 82.8 218.2 82.6 218.8 82.3 219.4 82.1 219.9 81.9 220.5 81.7 221.1 81.5 221.7 81.3 222.2 81.1 222.8 80.9 223.4 80.7 224.0 80.5 224.5 80.3 225.1 80.1 225.7 79.9 226.2 79.7 226.8 79.5 227.4 79.3 228.0 79.1 228.5 78.9 229.1 78.7 229.7 78.5 230.3 78.3 230.8 78.1 231.4 77.9 232.0 77.7 232.6 77.5 233.1 77.3 233.7 77.1 234.3 76.9 234.9 76.7 235.4 76.5 236.0 76.3 236.6 76.2 237.1 76.0 237.7 75.8 238.3 75.6 238.9 75.4 239.4 75.2 240.0 75.0 240.6 74.8 241.2 74.6 241.7 74.4 242.3 74.2 242.9 74.0 243.5 73.8 244.0 73.6 244.6 73.4 245.2 73.2 245.8 73.0 246.3 72.8 246.9 72.6 247.5 72.4 248.0 72.2 248.6 72.0 249.2 71.8 249.8 71.6 250.3 71.4 250.9 71.2 251.5 71.0 252.1 70.8 252.6 70.6 253.2 70.4 253.8 70.2 254.4 70.0 254.9 69.8 255.5 69.6 256.1 69.4 256.7 69.3 257.2 69.1 257.8 68.9 258.4 68.7 258.9 68.5 259.5 68.3 260.1 68.1 260.7 67.9 261.2 67.7 261.8 67.5 262.4 67.3 263.0 67.1 263.5 66.9 264.1 66.7 264.7 66.5 265.3 66.3 265.8 66.1 266.3 66.0" stroke="#a8228a"/><path d="M266.3 72.6L265.7 72.8 265.2 73.0 264.6 73.2 264.0 73.3 263.4 73.5 262.9 73.7 262.3 73.9 261.7 74.1 261.1 74.2 260.6 74.4 260.0 74.6 259.4 74.8 258.8 75.0 258.3 75.1 257.7 75.3 257.1 75.5 256.5 75.7 256.0 75.9 255.4 76.0 254.8 76.2 254.3 76.4 253.7 76.6 253.1 76.8 252.5 77.0 252.0 77.1 251.4 77.3 250.8 77.5 250.2 77.7 249.7 77.9 249.1 78.1 248.5 78.2 247.9 78.4 247.4 78.6 246.8 78.8 246.2 79.0 245.6 79.2 245.1 79.4 244.5 79.6 243.9 79.7 243.4 79.9 242.8 80.1 242.2 80.3 241.6 80.5 241.1 80.7 240.5 80.9 239.9 81.1 239.3 81.2 238.8 81.4 238.2 81.6 237.6 81.8 237.0 82.0 236.5 82.2 235.9 82.4 235.3 82.6 234.7 82.8 234.2 83.0 233.6 83.2 233.0 83.4 232.5 83.6 231.9 83.7 231.3 83.9 230.7 84.1 230.2 84.3 229.6 84.5 229.0 84.7 228.4 84.9 227.9 85.1 227.3 85.3 226.7 85.5 226.1 85.7 225.6 85.9 225.0 86.1 224.4 86.3 223.8 86.5 223.3 86.7 222.7 86.9 222.1 87.1 221.6 87.3 221.0 87.5 220.4 87.7 219.8 87.9 219.3 88.2 218.7 88.4 218.1 88.6 217.5 88.8 217.0 89.0 216.4 89.2 215.8 89.4 215.2 89.6 214.7 89.8 214.1 90.0 213.5 90.2 213.0 90.5 212.4 90.7 211.8 90.9 211.2 91.1 210.7 91.3 210.1 91.5 209.5 91.7 208.9 92.0 208.4 92.2 207.8 92.4 207.2 92.6 206.6 92.8 206.1 93.0 205.5 93.3 204.9 93.5 204.3 93.7 203.8 93.9 203.2 94.2 202.6 94.4 202.1 94.6 201.5 94.8 200.9 95.1 200.3 95.3 199.8 95.5 199.2 95.7 198.6 96.0 198.0 96.2 197.5 96.4 196.9 96.7 196.3 96.9 195.7 97.1 195.2 97.4 194.6 97.6 194.0 97.8 193.4 98.1 192.9 98.3 192.3 98.5 191.7 98.8 191.2 99.0 190.6 99.2 190.0 99.5 189.4 99.7 188.9 100.0 188.3 100.2 187.7 100.4 187.1 100.7 186.6 100.9 186.0 101.2 185.4 101.4 184.8 101.7 184.3 101.9 183.7 102.2 183.1 102.4 182.5 102.7 182.0 102.9 181.4 103.2 180.8 103.4 180.3 103.7 179.7 103.9 179.1 104.2 178.5 104.4 178.0 104.7 177.4 104.9 176.8 105.2 176.2 105.4 175.7 105.7 175.1 105.9 174.5 106.2 173.9 106.4 173.4 106.7 172.8 107.0 172.2 107.2 171.6 107.5 171.1 107.7 170.5 108.0 169.9 108.2 169.4 108.5 168.8 108.8 168.2 109.0 167.6 109.3 167.1 109.5 166.5 109.8 165.9 110.1 165.3 110.3 164.8 110.6 164.2 110.9 163.6 111.1 163.0 111.4 162.5 111.7 162.0 112.1 161.5 112.6 161.2 113.1 160.8 113.7 160.5 114.2 160.2 114.8 159.9 115.4 159.5 115.9 159.1 116.4 158.6 116.8 158.1 117.1 157.5 117.4 156.9 117.7 156.4 118.0 155.8 118.2 155.2 118.5 154.6 118.8 154.1 119.0 153.5 119.3 152.9 119.6 152.4 119.8 151.8 120.1 151.2 120.3 150.6 120.6 150.1 120.9 149.5 121.1 148.9 121.4 148.3 121.6 147.8 121.9 147.2 122.2 146.6 122.4 146.0 122.7 145.5 122.9 144.9 123.2 144.3 123.5 143.7 123.7 143.2 124.0 142.6 124.2 142.0 124.5 141.5 124.8 140.9 125.0 140.3 125.3 139.7 125.5 139.2 125.8 138.6 126.0 138.0 126.3 137.4 126.5 136.9 126.8 136.3 127.0 135.7 127.3 135.1 127.5 134.6 127.8 134.0 128.0 133.4 128.3 132.8 128.5 132.3 128.8 131.7 129.0 131.1 129.3 130.6 129.5 130.0 129.8 129.4 130.0 128.8 130.2 128.3 130.5 127.7 130.7 127.1 131.0 126.5 131.2 126.0 131.5 125.4 131.7 124.8 131.9 124.2 132.2 123.7 132.4 123.1 132.6 122.5 132.9 121.9 133.1 121.4 133.3 120.8 133.6 120.2 133.8 119.7 134.0 119.1 134.3 118.5 134.5 117.9 134.7 117.4 135.0 116.8 135.2 116.2 135.4 115.6 135.7 115.1 135.9 114.5 136.1 113.9 136.3 113.3 136.6 112.8 136.8 112.2 137.0 111.6 137.2 111.0 137.4 110.5 137.7 109.9 137.9 109.3 138.1 108.8 138.3 108.2 138.5 107.6 138.8 107.0 139.0 106.5 139.2 105.9 139.4 105.3 139.6 104.7 139.8 104.2 140.1 103.6 140.3 103.0 140.5 102.4 140.7 101.9 140.9 101.3 141.1 100.7 141.3 100.2 141.5 99.6 141.7 99.0 142.0 98.4 142.2 97.9 142.4 97.3 142.6 96.7 142.8 96.1 143.0 95.6 143.2 95.0 143.4 94.4 143.6 93.8 143.8 93.3 144.0 92.7 144.2 92.1 144.4 91.5 144.6 91.0 144.8 90.4 145.0 89.8 145.2 89.3 145.4 88.7 145.6 88.1 145.8 87.5 146.0 87.0 146.2 86.4 146.4 85.8 146.6 85.2 146.8 84.7 147.0 84.1 147.2 83.5 147.4 82.9 147.6 82.4 147.8 81.8 148.0 81.2 148.2 80.6 148.3 80.1 148.5 79.5 148.7 78.9 148.9 78.4 149.1 77.8 149.3 77.2 149.5 76.6 149.7 76.1 149.9 75.5 150.1 74.9 150.3 74.3 150.4 73.8 150.6 73.2 150.8 72.6 151.0 72.0 151.2 71.5 151.4 70.9 151.6 70.3 151.8 69.7 151.9 69.2 152.1 68.6 152.3 68.0 152.5 67.5 152.7 66.9 152.9 66.3 153.0 65.7 153.2 65.2 153.4 64.6 153.6 64.0 153.8 63.4 154.0 62.9 154.2 62.3 154.3 61.7 154.5 61.1 154.7 60.6 154.9 60.0 155.1 59.4 155.2 58.8 155.4 58.3 155.6 57.7 155.8 58.3 155.6 58.8 155.4 59.4 155.2 60.0 155.1 60.6 154.9 61.1 154.7 61.7 154.5 62.3 154.3 62.9 154.2 63.4 154.0 64.0 153.8 64.6 153.6 65.2 153.4 65.7 153.2 66.3 153.0 66.9 152.9 67.5 152.7 68.0 152.5 68.6 152.3 69.2 152.1 69.7 151.9 70.3 151.8 70.9 151.6 71.5 151.4 72.0 151.2 72.6 151.0 73.2 150.8 73.8 150.6 74.3 150.4 74.9 150.3 75.5 150.1 76.1 149.9 76.6 149.7 77.2 149.5 77.8 149.3 78.4 149.1 78.9 148.9 79.5 148.7 80.1 148.5 80.6 148.3 81.2 148.2 81.8 148.0 82.4 147.8 82.9 147.6 83.5 147.4 84.1 147.2 84.7 147.0 85.2 146.8 85.8 146.6 86.4 146.4 87.0 146.2 87.5 146.0 88.1 145.8 88.7 145.6 89.3 145.4 89.8 145.2 90.4 145.0 91.0 144.8 91.5 144.6 92.1 144.4 92.7 144.2 93.3 144.0 93.8 143.8 94.4 143.6 95.0 143.4 95.6 143.2 96.1 143.0 96.7 142.8 97.3 142.6 97.9 142.4 98.4 142.2 99.0 142.0 99.6 141.7 100.2 141.5 100.7 141.3 101.3 141.1 101.9 140.9 102.4 140.7 103.0 140.5 103.6 140.3 104.2 140.1 104.7 139.8 105.3 139.6 105.9 139.4 106.5 139.2 107.0 139.0 107.6 138.8 108.2 138.5 108.8 138.3 109.3 138.1 109.9 137.9 110.5 137.7 111.0 137.4 111.6 137.2 112.2 137.0 112.8 136.8 113.3 136.6 113.9 136.3 114.5 136.1 115.1 135.9 115.6 135.7 116.2 135.4 116.8 135.2 117.4 135.0 117.9 134.7 118.5 134.5 119.1 134.3 119.7 134.0 120.2 133.8 120.8 133.6 121.4 133.3 121.9 133.1 122.5 132.9 123.1 132.6 123.7 132.4 124.2 132.2 124.8 131.9 125.4 131.7 126.0 131.5 126.5 131.2 127.1 131.0 127.7 130.7 128.3 130.5 128.8 130.2 129.4 130.0 130.0 129.8 130.6 129.5 131.1 129.3 131.7 129.0 132.3 128.8 132.8 128.5 133.4 128.3 134.0 128.0 134.6 127.8 135.1 127.5 135.7 127.3 136.3 127.0 136.9 126.8 137.4 126.5 138.0 126.3 138.6 126.0 139.2 125.8 139.7 125.5 140.3 125.3 140.9 125.0 141.5 124.8 142.0 124.5 142.6 124.2 143.2 124.0 143.7 123.7 144.3 123.5 144.9 123.2 145.5 122.9 146.0 122.7 146.6 122.4 147.2 122.2 147.8 121.9 148.3 121.6 148.9 121.4 149.5 121.1 150.1 120.9 150.6 120.6 151.2 120.3 151.8 120.1 152.4 119.8 152.9 119.6 153.5 119.3 154.1 119.0 154.6 118.8 155.2 118.5 155.8 118.2 156.4 118.0 156.9 117.7 157.5 117.5 158.1 117.2 158.7 116.9 159.2 116.7 159.8 116.4 160.4 116.1 161.0 115.8 161.5 115.5 162.0 115.1 162.5 114.7 162.8 114.2 163.2 113.6 163.5 113.0 163.8 112.4 164.1 111.9 164.5 111.4 164.9 110.9 165.4 110.5 165.9 110.1 166.5 109.8 167.1 109.6 167.6 109.3 168.2 109.0 168.8 108.8 169.4 108.5 169.9 108.2 170.5 108.0 171.1 107.7 171.6 107.5 172.2 107.2 172.8 107.0 173.4 106.7 173.9 106.4 174.5 106.2 175.1 105.9 175.7 105.7 176.2 105.4 176.8 105.2 177.4 104.9 178.0 104.7 178.5 104.4 179.1 104.2 179.7 103.9 180.3 103.7 180.8 103.4 181.4 103.2 182.0 102.9 182.5 102.7 183.1 102.4 183.7 102.2 184.3 101.9 184.8 101.7 185.4 101.4 186.0 101.2 186.6 100.9 187.1 100.7 187.7 100.4 188.3 100.2 188.9 100.0 189.4 99.7 190.0 99.5 190.6 99.2 191.2 99.0 191.7 98.8 192.3 98.5 192.9 98.3 193.4 98.1 194.0 97.8 194.6 97.6 195.2 97.4 195.7 97.1 196.3 96.9 196.9 96.7 197.5 96.4 198.0 96.2 198.6 96.0 199.2 95.7 199.8 95.5 200.3 95.3 200.9 95.1 201.5 94.8 202.1 94.6 202.6 94.4 203.2 94.2 203.8 93.9 204.3 93.7 204.9 93.5 205.5 93.3 206.1 93.0 206.6 92.8 207.2 92.6 207.8 92.4 208.4 92.2 208.9 92.0 209.5 91.7 210.1 91.5 210.7 91.3 211.2 91.1 211.8 90.9 212.4 90.7 213.0 90.5 213.5 90.2 214.1 90.0 214.7 89.8 215.2 89.6 215.8 89.4 216.4 89.2 217.0 89.0 217.5 88.8 218.1 88.6 218.7 88.4 219.3 88.2 219.8 87.9 220.4 87.7 221.0 87.5 221.6 87.3 222.1 87.1 222.7 86.9 223.3 86.7 223.8 86.5 224.4 86.3 225.0 86.1 225.6 85.9 226.1 85.7 226.7 85.5 227.3 85.3 227.9 85.1 228.4 84.9 229.0 84.7 229.6 84.5 230.2 84.3 230.7 84.1 231.3 83.9 231.9 83.7 232.5 83.6 233.0 83.4 233.6 83.2 234.2 83.0 234.7 82.8 235.3 82.6 235.9 82.4 236.5 82.2 237.0 82.0 237.6 81.8 238.2 81.6 238.8 81.4 239.3 81.2 239.9 81.1 240.5 80.9 241.1 80.7 241.6 80.5 242.2 80.3 242.8 80.1 243.4 79.9 243.9 79.7 244.5 79.6 245.1 79.4 245.6 79.2 246.2 79.0 246.8 78.8 247.4 78.6 247.9 78.4 248.5 78.2 249.1 78.1 249.7 77.9 250.2 77.7 250.8 77.5 251.4 77.3 252.0 77.1 252.5 77.0 253.1 76.8 253.7 76.6 254.3 76.4 254.8 76.2 255.4 76.0 256.0 75.9 256.5 75.7 257.1 75.5 257.7 75.3 258.3 75.1 258.8 75.0 259.4 74.8 260.0 74.6 260.6 74.4 261.1 74.2 261.7 74.1 262.3 73.9 262.9 73.7 263.4 73.5 264.0 73.3 264.6 73.2 265.2 73.0 265.7 72.8 266.3 72.6" stroke="#b4a000"/><path d="M266.3 74.2L265.7 74.4 265.2 74.5 264.6 74.7 264.0 74.9 263.4 75.1 262.9 75.3 262.3 75.4 261.7 75.6 261.1 75.8 260.6 76.0 260.0 76.2 259.4 76.3 258.8 76.5 258.3 76.7 257.7 76.9 257.1 77.1 256.5 77.2 256.0 77.4 255.4 77.6 254.8 77.8 254.3 78.0 253.7 78.1 253.1 78.3 252.5 78.5 252.0 78.7 251.4 78.9 250.8 79.0 250.2 79.2 249.7 79.4 249.1 79.6 248.5 79.8 247.9 80.0 247.4 80.1 246.8 80.3 246.2 80.5 245.6 80.7 245.1 80.9 244.5 81.1 243.9 81.2 243.4 81.4 242.8 81.6 242.2 81.8 241.6 82.0 241.1 82.2 240.5 82.4 239.9 82.6 239.3 82.7 238.8 82.9 238.2 83.1 237.6 83.3 237.0 83.5 236.5 83.7 235.9 83.9 235.3 84.1 234.7 84.3 234.2 84.4 233.6 84.6 233.0 84.8 232.5 85.0 231.9 85.2 231.3 85.4 230.7 85.6 230.2 85.8 229.6 86.0 229.0 86.2 228.4 86.4 227.9 86.6 227.3 86.8 226.7 87.0 226.1 87.1 225.6 87.3 225.0 87.5 224.4 87.7 223.8 87.9 223.3 88.1 222.7 88.3 222.1 88.5 221.6 88.7 221.0 88.9 220.4 89.1 219.8 89.3 219.3 89.5 218.7 89.7 218.1 89.9 217.5 90.1 217.0 90.3 216.4 90.5 215.8 90.8 215.2 91.0 214.7 91.2 214.1 91.4 213.5 91.6 213.0 91.8 212.4 92.0 211.8 92.2 211.2 92.4 210.7 92.6 210.1 92.8 209.5 93.0 208.9 93.2 208.4 93.5 207.8 93.7 207.2 93.9 206.6 94.1 206.1 94.3 205.5 94.5 204.9 94.7 204.3 95.0 203.8 95.2 203.2 95.4 202.6 95.6 202.1 95.8 201.5 96.0 200.9 96.3 200.3 96.5 199.8 96.7 199.2 96.9 198.6 97.1 198.0 97.4 197.5 97.6 196.9 97.8 196.3 98.0 195.7 98.3 195.2 98.5 194.6 98.7 194.0 98.9 193.4 99.2 192.9 99.4 192.3 99.6 191.7 99.9 191.2 100.1 190.6 100.3 190.0 100.5 189.4 100.8 188.9 101.0 188.3 101.2 187.7 101.5 187.1 101.7 186.6 101.9 186.0 102.2 185.4 102.4 184.8 102.7 184.3 102.9 183.7 103.1 183.1 103.4 182.5 103.6 182.0 103.8 181.4 104.1 180.8 104.3 180.3 104.6 179.7 104.8 179.1 105.0 178.5 105.3 178.0 105.5 177.4 105.8 176.8 106.0 176.2 106.3 175.7 106.5 175.1 106.8 174.5 107.0 173.9 107.2 173.4 107.5 172.8 107.7 172.2 108.0 171.6 108.2 171.1 108.5 170.5 108.7 169.9 109.0 169.4 109.2 168.8 109.5 168.2 109.7 167.6 110.0 167.1 110.2 166.5 110.5 165.9 110.8 165.3 111.0 164.8 111.4 164.2 111.7 163.8 112.1 163.3 112.5 162.9 113.0 162.5 113.5 162.1 114.0 161.6 114.5 161.2 115.0 160.6 115.4 160.1 115.7 159.5 116.0 159.0 116.3 158.4 116.5 157.8 116.8 157.3 117.1 156.7 117.3 156.1 117.6 155.5 117.8 155.0 118.1 154.4 118.3 153.8 118.6 153.2 118.8 152.7 119.1 152.1 119.3 151.5 119.6 150.9 119.8 150.4 120.1 149.8 120.3 149.2 120.6 148.6 120.8 148.1 121.1 147.5 121.3 146.9 121.6 146.4 121.8 145.8 122.1 145.2 122.3 144.6 122.6 144.1 122.8 143.5 123.1 142.9 123.3 142.3 123.6 141.8 123.8 141.2 124.0 140.6 124.3 140.0 124.5 139.5 124.8 138.9 125.0 138.3 125.3 137.8 125.5 137.2 125.8 136.6 126.0 136.0 126.2 135.5 126.5 134.9 126.7 134.3 127.0 133.7 127.2 133.2 127.4 132.6 127.7 132.0 127.9 131.4 128.2 130.9 128.4 130.3 128.6 129.7 128.9 129.1 129.1 128.6 129.3 128.0 129.6 127.4 129.8 126.9 130.0 126.3 130.3 125.7 130.5 125.1 130.7 124.6 131.0 124.0 131.2 123.4 131.4 122.8 131.6 122.3 131.9 121.7 132.1 121.1 132.3 120.5 132.5 120.0 132.8 119.4 133.0 118.8 133.2 118.2 133.4 117.7 133.7 117.1 133.9 116.5 134.1 116.0 134.3 115.4 134.6 114.8 134.8 114.2 135.0 113.7 135.2 113.1 135.4 112.5 135.6 111.9 135.9 111.4 136.1 110.8 136.3 110.2 136.5 109.6 136.7 109.1 136.9 108.5 137.1 107.9 137.4 107.3 137.6 106.8 137.8 106.2 138.0 105.6 138.2 105.1 138.4 104.5 138.6 103.9 138.8 103.3 139.0 102.8 139.2 102.2 139.5 101.6 139.7 101.0 139.9 100.5 140.1 99.9 140.3 99.3 140.5 98.7 140.7 98.2 140.9 97.6 141.1 97.0 141.3 96.4 141.5 95.9 141.7 95.3 141.9 94.7 142.1 94.2 142.3 93.6 142.5 93.0 142.7 92.4 142.9 91.9 143.1 91.3 143.3 90.7 143.5 90.1 143.7 89.6 143.9 89.0 144.1 88.4 144.3 87.8 144.5 87.3 144.7 86.7 144.8 86.1 145.0 85.5 145.2 85.0 145.4 84.4 145.6 83.8 145.8 83.3 146.0 82.7 146.2 82.1 146.4 81.5 146.6 81.0 146.8 80.4 147.0 79.8 147.1 79.2 147.3 78.7 147.5 78.1 147.7 77.5 147.9 76.9 148.1 76.4 148.3 75.8 148.5 75.2 148.6 74.6 148.8 74.1 149.0 73.5 149.2 72.9 149.4 72.4 149.6 71.8 149.8 71.2 149.9 70.6 150.1 70.1 150.3 69.5 150.5 68.9 150.7 68.3 150.9 67.8 151.1 67.2 151.2 66.6 151.4 66.0 151.6 65.5 151.8 64.9 152.0 64.3 152.1 63.7 152.3 63.2 152.5 62.6 152.7 62.0 152.9 61.5 153.1 60.9 153.2 60.3 153.4 59.7 153.6 59.2 153.8 58.6 154.0 58.0 154.1 58.6 154.0 59.2 153.8 59.7 153.6 60.3 153.4 60.9 153.2 61.5 153.1 62.0 152.9 62.6 152.7 63.2 152.5 63.7 152.3 64.3 152.1 64.9 152.0 65.5 151.8 66.0 151.6 66.6 151.4 67.2 151.2 67.8 151.1 68.3 150.9 68.9 150.7 69.5 150.5 70.1 150.3 70.6 150.1 71.2 149.9 71.8 149.8 72.4 149.6 72.9 149.4 73.5 149.2 74.1 149.0 74.6 148.8 75.2 148.6 75.8 148.5 76.4 148.3 76.9 148.1 77.5 147.9 78.1 147.7 78.7 147.5 79.2 147.3 79.8 147.1 80.4 147.0 81.0 146.8 81.5 146.6 82.1 146.4 82.7 146.2 83.3 146.0 83.8 145.8 84.4 145.6 85.0 145.4 85.5 145.2 86.1 145.0 86.7 144.8 87.3 144.7 87.8 144.5 88.4 144.3 89.0 144.1 89.6 143.9 90.1 143.7 90.7 143.5 91.3 143.3 91.9 143.1 92.4 142.9 93.0 142.7 93.6 142.5 94.2 142.3 94.7 142.1 95.3 141.9 95.9 141.7 96.4 141.5 97.0 141.3 97.6 141.1 98.2 140.9 98.7 140.7 99.3 140.5 99.9 140.3 100.5 140.1 101.0 139.9 101.6 139.7 102.2 139.5 102.8 139.2 103.3 139.0 103.9 138.8 104.5 138.6 105.1 138.4 105.6 138.2 106.2 138.0 106.8 137.8 107.3 137.6 107.9 137.4 108.5 137.1 109.1 136.9 109.6 136.7 110.2 136.5 110.8 136.3 111.4 136.1 111.9 135.9 112.5 135.6 113.1 135.4 113.7 135.2 114.2 135.0 114.8 134.8 115.4 134.6 116.0 134.3 116.5 134.1 117.1 133.9 117.7 133.7 118.2 133.4 118.8 133.2 119.4 133.0 120.0 132.8 120.5 132.5 121.1 132.3 121.7 132.1 122.3 131.9 122.8 131.6 123.4 131.4 124.0 131.2 124.6 131.0 125.1 130.7 125.7 130.5 126.3 130.3 126.9 130.0 127.4 129.8 128.0 129.6 128.6 129.3 129.1 129.1 129.7 128.9 130.3 128.6 130.9 128.4 131.4 128.2 132.0 127.9 132.6 127.7 133.2 127.4 133.7 127.2 134.3 127.0 134.9 126.7 135.5 126.5 136.0 126.2 136.6 126.0 137.2 125.8 137.8 125.5 138.3 125.3 138.9 125.0 139.5 124.8 140.0 124.5 140.6 124.3 141.2 124.0 141.8 123.8 142.3 123.6 142.9 123.3 143.5 123.1 144.1 122.8 144.6 122.6 145.2 122.3 145.8 122.1 146.4 121.8 146.9 121.6 147.5 121.3 148.1 121.1 148.6 120.8 149.2 120.6 149.8 120.3 150.4 120.1 150.9 119.8 151.5 119.6 152.1 119.3 152.7 119.1 153.2 118.8 153.8 118.6 154.4 118.3 155.0 118.1 155.5 117.8 156.1 117.6 156.7 117.3 157.3 117.1 157.8 116.8 158.4 116.5 159.0 116.3 159.5 116.0 160.1 115.7 160.6 115.4 161.2 115.0 161.6 114.5 162.1 114.0 162.5 113.5 162.9 113.0 163.3 112.5 163.8 112.1 164.2 111.7 164.8 111.4 165.3 111.0 165.9 110.8 166.5 110.5 167.1 110.2 167.6 110.0 168.2 109.7 168.8 109.5 169.4 109.2 169.9 109.0 170.5 108.7 171.1 108.5 171.6 108.2 172.2 108.0 172.8 107.7 173.4 107.5 173.9 107.2 174.5 107.0 175.1 106.8 175.7 106.5 176.2 106.3 176.8 106.0 177.4 105.8 178.0 105.5 178.5 105.3 179.1 105.0 179.7 104.8 180.3 104.6 180.8 104.3 181.4 104.1 182.0 103.8 182.5 103.6 183.1 103.4 183.7 103.1 184.3 102.9 184.8 102.7 185.4 102.4 186.0 102.2 186.6 101.9 187.1 101.7 187.7 101.5 188.3 101.2 188.9 101.0 189.4 100.8 190.0 100.5 190.6 100.3 191.2 100.1 191.7 99.9 192.3 99.6 192.9 99.4 193.4 99.2 194.0 98.9 194.6 98.7 195.2 98.5 195.7 98.3 196.3 98.0 196.9 97.8 197.5 97.6 198.0 97.4 198.6 97.1 199.2 96.9 199.8 96.7 200.3 96.5 200.9 96.3 201.5 96.0 202.1 95.8 202.6 95.6 203.2 95.4 203.8 95.2 204.3 95.0 204.9 94.7 205.5 94.5 206.1 94.3 206.6 94.1 207.2 93.9 207.8 93.7 208.4 93.5 208.9 93.2 209.5 93.0 210.1 92.8 210.7 92.6 211.2 92.4 211.8 92.2 212.4 92.0 213.0 91.8 213.5 91.6 214.1 91.4 214.7 91.2 215.2 91.0 215.8 90.8 216.4 90.5 217.0 90.3 217.5 90.1 218.1 89.9 218.7 89.7 219.3 89.5 219.8 89.3 220.4 89.1 221.0 88.9 221.6 88.7 222.1 88.5 222.7 88.3 223.3 88.1 223.8 87.9 224.4 87.7 225.0 87.5 225.6 87.3 226.1 87.1 226.7 87.0 227.3 86.8 227.9 86.6 228.4 86.4 229.0 86.2 229.6 86.0 230.2 85.8 230.7 85.6 231.3 85.4 231.9 85.2 232.5 85.0 233.0 84.8 233.6 84.6 234.2 84.4 234.7 84.3 235.3 84.1 235.9 83.9 236.5 83.7 237.0 83.5 237.6 83.3 238.2 83.1 238.8 82.9 239.3 82.7 239.9 82.6 240.5 82.4 241.1 82.2 241.6 82.0 242.2 81.8 242.8 81.6 243.4 81.4 243.9 81.2 244.5 81.1 245.1 80.9 245.6 80.7 246.2 80.5 246.8 80.3 247.4 80.1 247.9 80.0 248.5 79.8 249.1 79.6 249.7 79.4 250.2 79.2 250.8 79.0 251.4 78.9 252.0 78.7 252.5 78.5 253.1 78.3 253.7 78.1 254.3 78.0 254.8 77.8 255.4 77.6 256.0 77.4 256.5 77.2 257.1 77.1 257.7 76.9 258.3 76.7 258.8 76.5 259.4 76.3 260.0 76.2 260.6 76.0 261.1 75.8 261.7 75.6 262.3 75.4 262.9 75.3 263.4 75.1 264.0 74.9 264.6 74.7 265.2 74.5 265.7 74.4 266.3 74.2" stroke="#66661a" stroke-width="2.9"/>
</g>
<path d="M49.3 0.9H344.8V228.2H49.3Z" fill="none" stroke="#000" stroke-width="1.5"/>
<path d="M57.7 228.2V223.2M57.7 0.9V5.9M109.8 228.2V223.2M109.8 0.9V5.9M162.0 228.2V223.2M162.0 0.9V5.9M214.2 228.2V223.2M214.2 0.9V5.9M266.3 228.2V223.2M266.3 0.9V5.9M318.4 228.2V223.2M318.4 0.9V5.9M83.8 228.2V225.4M83.8 0.9V3.7M135.9 228.2V225.4M135.9 0.9V3.7M188.1 228.2V225.4M188.1 0.9V3.7M240.2 228.2V225.4M240.2 0.9V3.7M292.4 228.2V225.4M292.4 0.9V3.7M49.3 215.8H55.1M344.8 215.8H339.0M49.3 190.5H55.1M344.8 190.5H339.0M49.3 165.2H55.1M344.8 165.2H339.0M49.3 139.8H55.1M344.8 139.8H339.0M49.3 114.5H55.1M344.8 114.5H339.0M49.3 89.2H55.1M344.8 89.2H339.0M49.3 63.8H55.1M344.8 63.8H339.0M49.3 38.5H55.1M344.8 38.5H339.0M49.3 13.2H55.1M344.8 13.2H339.0M49.3 203.1H52.5M344.8 203.1H341.6M49.3 177.8H52.5M344.8 177.8H341.6M49.3 152.5H52.5M344.8 152.5H341.6M49.3 127.2H52.5M344.8 127.2H341.6M49.3 101.8H52.5M344.8 101.8H341.6M49.3 76.5H52.5M344.8 76.5H341.6M49.3 51.2H52.5M344.8 51.2H341.6M49.3 25.9H52.5M344.8 25.9H341.6" stroke="#000" stroke-width="1.4" fill="none"/>
<g font-size="13" text-anchor="middle" fill="#000"><text transform="translate(57.70 244.80) scale(1 1.120)">-1.0</text><text transform="translate(109.85 244.80) scale(1 1.120)">-0.5</text><text transform="translate(162.00 244.80) scale(1 1.120)">0.0</text><text transform="translate(214.15 244.80) scale(1 1.120)">0.5</text><text transform="translate(266.30 244.80) scale(1 1.120)">1.0</text><text transform="translate(318.45 244.80) scale(1 1.120)">1.5</text></g>
<g font-size="13" text-anchor="end" fill="#000"><text transform="translate(42.60 220.70) scale(1 1.120)">-20</text><text transform="translate(42.60 195.38) scale(1 1.120)">-15</text><text transform="translate(42.60 170.05) scale(1 1.120)">-10</text><text transform="translate(42.60 144.72) scale(1 1.120)">-5</text><text transform="translate(42.60 119.40) scale(1 1.120)">0</text><text transform="translate(42.60 94.08) scale(1 1.120)">5</text><text transform="translate(42.60 68.75) scale(1 1.120)">10</text><text transform="translate(42.60 43.42) scale(1 1.120)">15</text><text transform="translate(42.60 18.10) scale(1 1.120)">20</text></g>
<g fill="none" stroke-width="2.4" stroke-linecap="butt"><path d="M275.7 13.7H294.5" stroke="#000000"/><path d="M275.7 28.2H294.5" stroke="#e00000"/><path d="M275.7 42.7H294.5" stroke="#48aa28"/><path d="M275.7 57.2H294.5" stroke="#0c2a8c"/><path d="M275.7 71.7H294.5" stroke="#0a8ac8"/><path d="M275.7 86.2H294.5" stroke="#a8228a"/><path d="M275.7 100.7H294.5" stroke="#b4a000"/><path d="M275.7 115.2H294.5" stroke="#66661a"/></g>
<g font-size="13" text-anchor="middle" fill="#000"><text transform="translate(319.00 18.60) scale(1 1.120)">1.5 K</text><text transform="translate(319.00 33.10) scale(1 1.120)">4 K</text><text transform="translate(319.00 47.60) scale(1 1.120)">20 K</text><text transform="translate(319.00 62.10) scale(1 1.120)">30 K</text><text transform="translate(319.00 76.60) scale(1 1.120)">45 K</text><text transform="translate(319.00 91.10) scale(1 1.120)">60 K</text><text transform="translate(319.00 105.60) scale(1 1.120)">100 K</text><text transform="translate(319.00 120.10) scale(1 1.120)">125 K</text></g>
<text transform="translate(201.5 263.8) scale(1 1.06)" font-size="16" text-anchor="middle"><tspan font-style="italic">B</tspan> (T)</text>
<text transform="translate(13.6 113.4) rotate(-90) scale(1 1.13)" font-size="15" text-anchor="middle" style="stroke-width:0.1px"><tspan font-style="italic">R</tspan><tspan font-size="9.5" font-style="italic" dy="3.2" style="stroke-width:0">xy</tspan><tspan dy="-3.2" font-size="16"> (<tspan font-size="16.5">&#937;</tspan>)</tspan></text>
<!-- inset -->
<rect x="232.3" y="130.2" width="102.7" height="67.8" fill="#fff" stroke="#000" stroke-width="1.1"/>
<path d="M238.9 198.0V196.4M238.9 130.2V131.8M245.8 198.0V196.4M245.8 130.2V131.8M252.6 198.0V196.4M252.6 130.2V131.8M259.4 198.0V196.4M259.4 130.2V131.8M266.3 198.0V196.4M266.3 130.2V131.8M273.1 198.0V196.4M273.1 130.2V131.8M280.0 198.0V196.4M280.0 130.2V131.8M286.9 198.0V196.4M286.9 130.2V131.8M293.7 198.0V196.4M293.7 130.2V131.8M300.6 198.0V196.4M300.6 130.2V131.8M307.4 198.0V196.4M307.4 130.2V131.8M314.2 198.0V196.4M314.2 130.2V131.8M321.1 198.0V196.4M321.1 130.2V131.8M328.0 198.0V196.4M328.0 130.2V131.8M232.3 198.0H234.5M335.0 198.0H332.8M232.3 192.4H233.6M335.0 192.4H333.7M232.3 186.8H234.5M335.0 186.8H332.8M232.3 181.1H233.6M335.0 181.1H333.7M232.3 175.5H234.5M335.0 175.5H332.8M232.3 169.9H233.6M335.0 169.9H333.7M232.3 164.2H234.5M335.0 164.2H332.8M232.3 158.6H233.6M335.0 158.6H333.7M232.3 153.0H234.5M335.0 153.0H332.8M232.3 147.4H233.6M335.0 147.4H333.7M232.3 141.8H234.5M335.0 141.8H332.8M232.3 136.1H233.6M335.0 136.1H333.7M232.3 130.5H234.5M335.0 130.5H332.8" stroke="#000" stroke-width="0.9" fill="none"/>
<path d="M239.9 137.8L240.0 138.0 240.0 138.2 240.0 138.3 240.0 138.5 240.1 138.7 240.1 138.9 240.2 139.3 240.3 139.7 240.5 140.3 240.8 141.0 241.2 141.9 241.6 143.0 242.2 144.3 243.0 146.0 243.8 147.9 244.8 150.0 245.8 152.2 246.8 154.5 247.9 156.8 248.9 159.0 249.9 161.2 250.9 163.1 251.8 164.9 252.6 166.4 253.3 167.6 253.9 168.7 254.5 169.6 255.1 170.3 255.6 171.0 256.1 171.6 256.6 172.1 257.1 172.6 257.6 173.1 258.2 173.6 258.8 174.1 259.4 174.7 260.2 175.4 261.0 176.0 261.8 176.7 262.6 177.3 263.5 177.9 264.4 178.5 265.3 179.1 266.2 179.7 267.1 180.3 268.0 180.9 268.9 181.5 269.7 182.0 270.5 182.5 271.2 183.0 271.9 183.5 272.5 183.9 273.1 184.4 273.8 184.8 274.5 185.2 275.3 185.7 276.2 186.1 277.3 186.6 278.5 187.1 280.0 187.7 281.7 188.3 283.7 189.0 285.9 189.7 288.2 190.5 290.7 191.3 293.3 192.0 295.8 192.8 298.4 193.5 300.9 194.2 303.2 194.9 305.4 195.4 307.4 195.9 309.2 196.3 311.0 196.6 312.8 196.9 314.5 197.1 316.1 197.3 317.7 197.5 319.1 197.6 320.5 197.7 321.7 197.8 322.8 197.8 323.7 197.9 324.5 198.0" stroke="#000" stroke-width="1.3" fill="none"/>
<g fill="#000"><rect x="238.5" y="136.4" width="2.8" height="2.8"/><rect x="240.2" y="141.6" width="2.8" height="2.8"/><rect x="251.2" y="165.0" width="2.8" height="2.8"/><rect x="258.1" y="173.3" width="2.8" height="2.8"/><rect x="268.3" y="180.6" width="2.8" height="2.8"/><rect x="278.6" y="186.3" width="2.8" height="2.8"/><rect x="306.0" y="194.5" width="2.8" height="2.8"/></g>
<g font-size="7.5" text-anchor="middle" fill="#000" class="thin"><text transform="translate(238.9 207.4) scale(1 1.15)">0</text><text transform="translate(252.6 207.4) scale(1 1.15)">20</text><text transform="translate(266.3 207.4) scale(1 1.15)">40</text><text transform="translate(280.0 207.4) scale(1 1.15)">60</text><text transform="translate(293.7 207.4) scale(1 1.15)">80</text><text transform="translate(307.4 207.4) scale(1 1.15)">100</text><text transform="translate(321.1 207.4) scale(1 1.15)">120</text></g>
<g font-size="7.5" text-anchor="end" fill="#000" class="thin"><text transform="translate(230.6 200.6) scale(1 1.15)">0</text><text transform="translate(230.6 189.3) scale(1 1.15)">2</text><text transform="translate(230.6 178.1) scale(1 1.15)">4</text><text transform="translate(230.6 166.8) scale(1 1.15)">6</text><text transform="translate(230.6 155.6) scale(1 1.15)">8</text><text transform="translate(230.6 144.3) scale(1 1.15)">10</text><text transform="translate(230.6 133.1) scale(1 1.15)">12</text></g>
<text transform="translate(283.4 221.6) scale(1 1.12)" font-size="11.3" text-anchor="middle"><tspan font-style="italic">T</tspan> (K)</text>
<text transform="translate(214.6 165.3) rotate(-90) scale(1 1.12)" font-size="11.3" text-anchor="middle"><tspan font-style="italic">R</tspan><tspan font-size="5.6" dy="2">AHE</tspan><tspan dy="-2"> (<tspan font-size="12">&#937;</tspan>)</tspan></text>
<g id="schem">
<defs>
<linearGradient id="gtop" x1="0" y1="0" x2="0" y2="1"><stop offset="0" stop-color="#f4f4f4"/><stop offset="0.5" stop-color="#e6e6e6"/><stop offset="1" stop-color="#efefef"/></linearGradient>
<linearGradient id="gfront" x1="0" y1="0" x2="0" y2="1"><stop offset="0" stop-color="#cacaca"/><stop offset="0.35" stop-color="#a6a6a6"/><stop offset="1" stop-color="#b4b4b4"/></linearGradient>
<linearGradient id="gside" x1="0" y1="0" x2="1" y2="0"><stop offset="0" stop-color="#777"/><stop offset="1" stop-color="#9a9a9a"/></linearGradient>
<linearGradient id="garm" x1="0" y1="0" x2="1" y2="0"><stop offset="0" stop-color="#fafafa"/><stop offset="1" stop-color="#e2e2e2"/></linearGradient>
</defs>
<!-- wires behind -->
<g fill="none" stroke="#333" stroke-width="0.9">
<path d="M106.3 20.3H92.7V41"/>
<path d="M125.3 20.3H138.8V41"/>
<path d="M86 25.1L90.4 20.7V44"/>
</g>
<!-- bar -->
<g stroke="#1a1a1a" stroke-width="0.9" stroke-linejoin="round">
<!-- front faces -->
<path d="M59 62.6H69.5L66.5 72.5H59Z" fill="url(#gfront)"/>
<path d="M79.5 62.6H116.5V72.5H79.5Z" fill="url(#gfront)"/>
<path d="M125.5 62.6H136.5V72.5H125.5Z" fill="url(#gfront)"/>
<!-- right end side face -->
<path d="M136.5 62.6L145.2 51.2V61L136.5 72.5Z" fill="url(#gside)"/>
<!-- front-left arm: top, front, side -->
<path d="M70 62.6H79.5L72 72H66.5Z" fill="url(#garm)"/>
<path d="M66.5 72H72V82H66.5Z" fill="url(#gfront)"/>
<path d="M72 72L79.5 62.6V72.5L72 82Z" fill="url(#gside)"/>
<!-- front-right arm -->
<path d="M116.5 62.6H125.5L118.5 72.6H112.5Z" fill="url(#garm)"/>
<path d="M112.5 72.6H118.5V82H112.5Z" fill="url(#gfront)"/>
<path d="M118.5 72.6L125.5 62.6V72.5L118.5 82Z" fill="url(#gside)"/>
<!-- top face -->
<path d="M59 62.6L68.6 50.5H83.2L90.3 40.7H96.2L89.5 50.5H128L137 39.8H142.2L134.5 50.5H145.2L136.5 62.6Z" fill="url(#gtop)"/>
<path d="M83.2 50.5L90.3 40.7H93L86 50.5Z" fill="#f8f8f8" stroke="none"/>
<path d="M128 50.5L137 39.8H139.5L131 50.5Z" fill="#f8f8f8" stroke="none"/>
<!-- back arm sides -->
<path d="M89.5 50.5L96.2 40.7V50.5Z" fill="url(#gside)"/>
<path d="M134.5 50.5L142.2 39.8V50.5Z" fill="url(#gside)"/>
</g>
<!-- wires in front -->
<g fill="none" stroke="#333" stroke-width="0.9">
<path d="M73.3 41.6L69.2 47.5V70.5"/>
</g>
<g fill="#111"><circle cx="92.8" cy="41.4" r="1.1"/><circle cx="138.8" cy="41.4" r="1.1"/><circle cx="90.2" cy="44.6" r="0.9"/><circle cx="69.3" cy="70.4" r="1"/></g>
<!-- circles -->
<circle cx="115.8" cy="20.3" r="9.5" fill="#fff" stroke="#222" stroke-width="1.2"/>
<circle cx="78.4" cy="32.5" r="9.0" fill="#fff" stroke="#222" stroke-width="1.2"/>
<text transform="translate(109.6 22.8) scale(0.85 1.05)" font-size="10.5" font-style="italic">V</text><text transform="translate(116.6 24.9) scale(1 1.1)" font-size="5.4" font-style="italic" fill="#333">xx</text>
<text transform="translate(73.5 35.8) scale(0.85 1.05)" font-size="10.5" font-style="italic">V</text><text transform="translate(80.6 37.9) scale(1 1.1)" font-size="5.4" font-style="italic" fill="#333">xy</text>
<!-- arrows -->
<g stroke="#000" fill="none" stroke-width="1.4">
<path d="M103.6 57.5V43.5"/><path d="M100 48.3L103.6 43L107.2 48.3"/>
<path d="M111 56.4H126"/><path d="M122.3 53.4L126.3 56.4L122.3 59.4"/>
</g>
<text transform="translate(92.3 60.2) scale(1 1.1)" font-size="10" font-style="italic">B</text>
<text transform="translate(129.8 60) scale(1 1.1)" font-size="10" font-style="italic">I</text>
</g>

</svg>
</body></html>
